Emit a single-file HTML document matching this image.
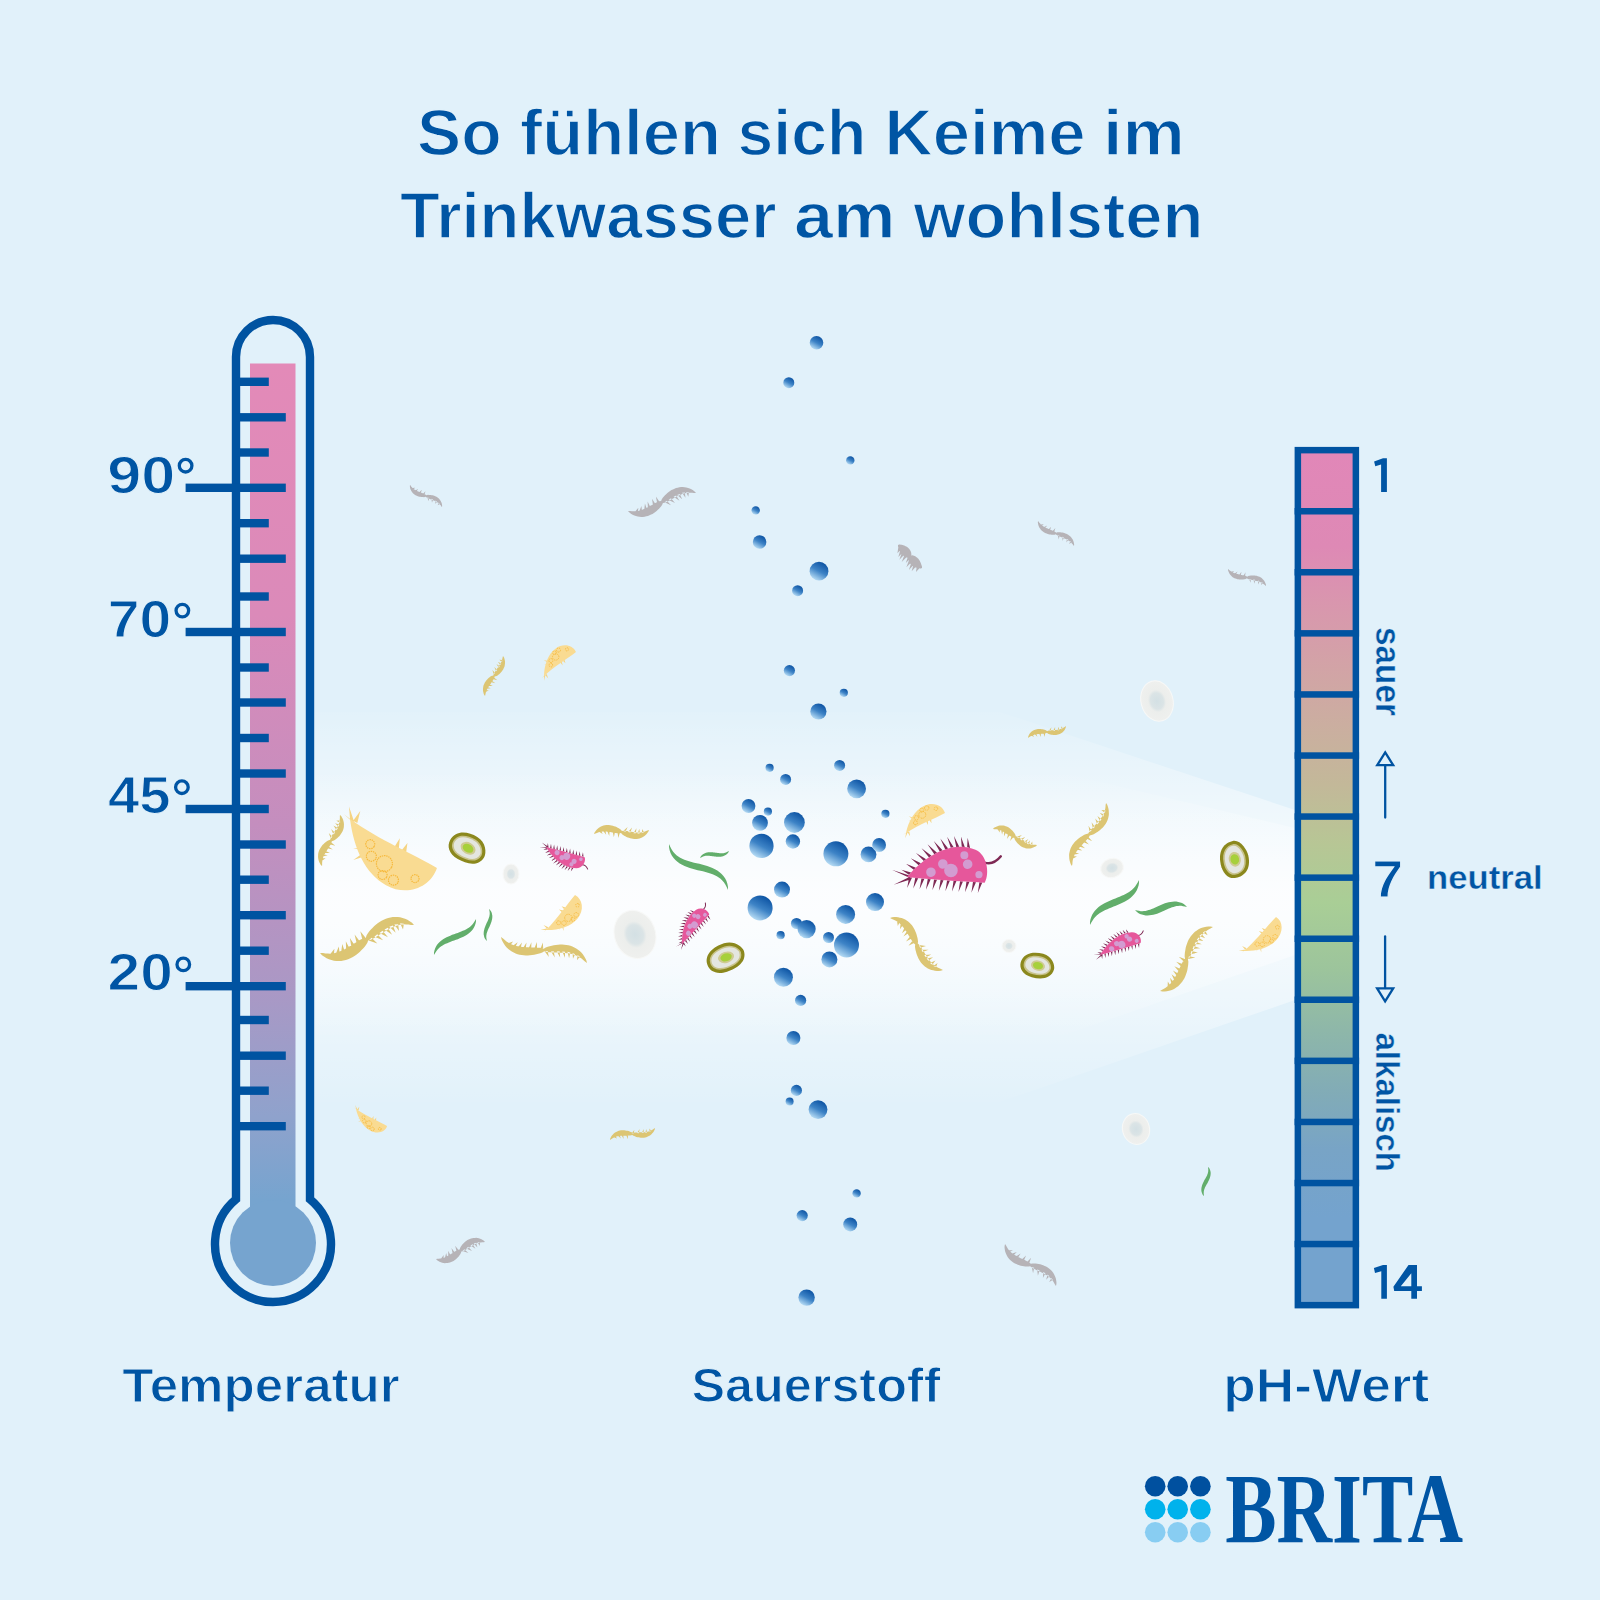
<!DOCTYPE html>
<html><head><meta charset="utf-8">
<style>
html,body{margin:0;padding:0;background:#E1F1FA;}
body{width:1600px;height:1600px;overflow:hidden;position:relative;}
svg{position:absolute;left:0;top:0;display:block;}
text{font-family:"Liberation Sans",sans-serif;fill:#0055A4;}
.thin text{stroke:#E1F1FA;stroke-width:1.4px;}
.thin2 text{stroke:#E1F1FA;stroke-width:1.1px;}
.thin3 text{stroke:#E1F1FA;stroke-width:0.4px;}
</style></head>
<body>
<svg width="1600" height="1600" viewBox="0 0 1600 1600">
<defs>
  <linearGradient id="glow" gradientUnits="userSpaceOnUse" x1="0" y1="712" x2="0" y2="1102">
    <stop offset="0" stop-color="#fff" stop-opacity="0.05"/>
    <stop offset="0.15" stop-color="#fff" stop-opacity="0.3"/>
    <stop offset="0.35" stop-color="#fff" stop-opacity="0.6"/>
    <stop offset="0.48" stop-color="#fff" stop-opacity="0.75"/>
    <stop offset="0.62" stop-color="#fff" stop-opacity="0.6"/>
    <stop offset="0.85" stop-color="#fff" stop-opacity="0.25"/>
    <stop offset="1" stop-color="#fff" stop-opacity="0.03"/>
  </linearGradient>
  <linearGradient id="therm" gradientUnits="userSpaceOnUse" x1="0" y1="364" x2="0" y2="1200">
    <stop offset="0" stop-color="#E38AB8"/>
    <stop offset="0.3" stop-color="#DB8AB9"/>
    <stop offset="0.55" stop-color="#C48EBE"/>
    <stop offset="0.75" stop-color="#AA98C5"/>
    <stop offset="0.9" stop-color="#8FA2CC"/>
    <stop offset="1" stop-color="#76A4CF"/>
  </linearGradient>
  <linearGradient id="phg" gradientUnits="userSpaceOnUse" x1="0" y1="453" x2="0" y2="1302">
    <stop offset="0" stop-color="#E187B8"/>
    <stop offset="0.11" stop-color="#DE89B5"/>
    <stop offset="0.175" stop-color="#D996AE"/>
    <stop offset="0.245" stop-color="#D3A2A7"/>
    <stop offset="0.32" stop-color="#CBAEA0"/>
    <stop offset="0.39" stop-color="#C3B899"/>
    <stop offset="0.46" stop-color="#B7C695"/>
    <stop offset="0.53" stop-color="#A9CE96"/>
    <stop offset="0.61" stop-color="#9CC49C"/>
    <stop offset="0.68" stop-color="#8EB7A9"/>
    <stop offset="0.75" stop-color="#82ACB6"/>
    <stop offset="0.82" stop-color="#78A4C6"/>
    <stop offset="0.9" stop-color="#74A3CE"/>
    <stop offset="1" stop-color="#74A3CE"/>
  </linearGradient>
  <radialGradient id="wc" cx="0.5" cy="0.5" r="0.5">
    <stop offset="0" stop-color="#D3E0E4"/>
    <stop offset="0.4" stop-color="#DBE4E6"/>
    <stop offset="0.55" stop-color="#ECEEEC"/>
    <stop offset="1" stop-color="#EFF0EE"/>
  </radialGradient>
  <linearGradient id="glow2" gradientUnits="userSpaceOnUse" x1="0" y1="770" x2="0" y2="1040">
    <stop offset="0" stop-color="#fff" stop-opacity="0"/>
    <stop offset="0.45" stop-color="#fff" stop-opacity="0.6"/>
    <stop offset="0.55" stop-color="#fff" stop-opacity="0.6"/>
    <stop offset="1" stop-color="#fff" stop-opacity="0"/>
  </linearGradient>
  <linearGradient id="bub" x1="0.75" y1="0.05" x2="0.25" y2="0.95">
    <stop offset="0" stop-color="#0B52A2"/>
    <stop offset="0.5" stop-color="#3D83C6"/>
    <stop offset="1" stop-color="#B8DDF5"/>
  </linearGradient>
</defs>

<!-- glow band -->
<path d="M314,712 L1000,712 L1295,810 L1295,1000 L1000,1102 L314,1102 Z" fill="url(#glow)"/>
<path d="M316,770 L1050,770 L1295,828 L1295,955 L1050,1040 L316,1040 Z" fill="url(#glow2)"/>

<!-- thermometer -->
<g id="thermo">
  <rect x="250" y="363.5" width="45.5" height="860" fill="url(#therm)"/>
  <circle cx="273" cy="1243" r="43" fill="#76A4CF"/>
  <path d="M236,1199.3 L236,357 A37,37 0 0 1 310,357 L310,1199.3 A58,58 0 1 1 236,1199.3 Z" fill="none" stroke="#0053A1" stroke-width="8.4"/>
  <g fill="#0053A1">
<rect x="236" y="377.6" width="32.8" height="8.4"/>
<rect x="236" y="413.1" width="49.8" height="8.4"/>
<rect x="236" y="448.3" width="32.8" height="8.4"/>
<rect x="185.6" y="483.6" width="100.2" height="8.4"/>
<rect x="236" y="519" width="32.8" height="8.4"/>
<rect x="236" y="554.5" width="49.8" height="8.4"/>
<rect x="236" y="592.3" width="32.8" height="8.4"/>
<rect x="185.6" y="627.8" width="100.2" height="8.4"/>
<rect x="236" y="663.3" width="32.8" height="8.4"/>
<rect x="236" y="698.3" width="49.8" height="8.4"/>
<rect x="236" y="733.8" width="32.8" height="8.4"/>
<rect x="236" y="769.3" width="49.8" height="8.4"/>
<rect x="185.6" y="804.8" width="83.2" height="8.4"/>
<rect x="236" y="840.3" width="49.8" height="8.4"/>
<rect x="236" y="875.5" width="32.8" height="8.4"/>
<rect x="236" y="911" width="49.8" height="8.4"/>
<rect x="236" y="946.5" width="32.8" height="8.4"/>
<rect x="185.6" y="982" width="100.2" height="8.4"/>
<rect x="236" y="1015.8" width="32.8" height="8.4"/>
<rect x="236" y="1051.5" width="49.8" height="8.4"/>
<rect x="236" y="1086.5" width="32.8" height="8.4"/>
<rect x="236" y="1122" width="49.8" height="8.4"/>
  </g>
</g>

<!-- pH bar -->
<g id="ph">
<rect x="1294.6" y="446.9" width="64.5" height="861.5" fill="#0053A1"/>
<rect x="1301.1" y="453.4" width="51.5" height="848.5" fill="url(#phg)"/>
<rect x="1294.6" y="508" width="64.5" height="6.5" fill="#0053A1"/>
<rect x="1294.6" y="569" width="64.5" height="6.5" fill="#0053A1"/>
<rect x="1294.6" y="630.1" width="64.5" height="6.5" fill="#0053A1"/>
<rect x="1294.6" y="691.2" width="64.5" height="6.5" fill="#0053A1"/>
<rect x="1294.6" y="752.3" width="64.5" height="6.5" fill="#0053A1"/>
<rect x="1294.6" y="813.3" width="64.5" height="6.5" fill="#0053A1"/>
<rect x="1294.6" y="874.4" width="64.5" height="6.5" fill="#0053A1"/>
<rect x="1294.6" y="935.5" width="64.5" height="6.5" fill="#0053A1"/>
<rect x="1294.6" y="996.5" width="64.5" height="6.5" fill="#0053A1"/>
<rect x="1294.6" y="1057.6" width="64.5" height="6.5" fill="#0053A1"/>
<rect x="1294.6" y="1118.7" width="64.5" height="6.5" fill="#0053A1"/>
<rect x="1294.6" y="1179.8" width="64.5" height="6.5" fill="#0053A1"/>
<rect x="1294.6" y="1240.8" width="64.5" height="6.5" fill="#0053A1"/>
</g>

<!-- microbes -->
<g id="microbes">
<path transform="translate(426,496) rotate(34.5) scale(1,-1)" d="M-19.4,0 L-18.3,-0.2 L-17.4,-0.6 L-16.5,-0.8 L-15.7,-1 L-14.9,-1.1 L-14.1,-1.2 L-13.4,-1.2 L-12.7,-1.2 L-12,-1.1 L-11.3,-1.1 L-10.6,-1 L-9.9,-0.9 L-9.2,-0.7 L-8.5,-0.6 L-7.8,-0.4 L-7.1,-0.3 L-6.3,-0.1 L-5.5,0.1 L-4.7,0.3 L-3.9,0.4 L-3.1,0.6 L-2.2,0.7 L-1.3,0.8 L-0.3,0.7 L0.3,1.5 L1,2.1 L1.8,2.6 L2.6,3.1 L3.4,3.5 L4.2,3.9 L5,4.3 L5.9,4.6 L6.7,4.8 L7.6,5 L8.6,5.2 L9.5,5.3 L10.4,5.3 L11.3,5.2 L12.3,5.1 L13.2,4.9 L14.1,4.5 L15,4.2 L15.8,3.7 L16.7,3.2 L17.5,2.5 L18.2,1.8 L18.9,1 L19.4,0 L19.4,-0 L18.3,0.2 L17.4,0.6 L16.5,0.8 L15.7,1 L14.9,1.1 L14.1,1.2 L13.4,1.2 L12.7,1.2 L12,1.1 L11.3,1.1 L10.6,1 L9.9,0.9 L9.2,0.7 L8.5,0.6 L7.8,0.4 L7.1,0.3 L6.3,0.1 L5.5,-0.1 L4.7,-0.3 L3.9,-0.4 L3.1,-0.6 L2.2,-0.7 L1.3,-0.8 L0.3,-0.7 L-0.3,-1.5 L-1,-2.1 L-1.8,-2.6 L-2.6,-3.1 L-3.4,-3.5 L-4.2,-3.9 L-5,-4.3 L-5.9,-4.6 L-6.7,-4.8 L-7.6,-5 L-8.6,-5.2 L-9.5,-5.3 L-10.4,-5.3 L-11.3,-5.2 L-12.3,-5.1 L-13.2,-4.9 L-14.1,-4.5 L-15,-4.2 L-15.8,-3.7 L-16.7,-3.2 L-17.5,-2.5 L-18.2,-1.8 L-18.9,-1 L-19.4,0 Z M-15.9,-1.2 L-13.5,0.6 L-14.2,-1.8 Z M-12.2,-1.7 L-10.4,1.4 L-10.4,-1.7 Z M-7.8,-1.1 L-6.9,2.7 L-6,-0.7 Z M-3.7,-0.2 L-3.2,3.7 L-2,0.4 Z M2,-0.4 L5.1,-3 L3.7,0.2 Z M6,0.7 L8.8,-2.2 L7.8,1.1 Z M10.4,1.7 L12.2,-1.4 L12.2,1.7 Z M14.2,1.8 L14.9,-1.1 L15.9,1.2 Z" fill="#B6B3B7"/>
<path transform="translate(662,502) rotate(-14.8) scale(1,-1)" d="M-35.2,0 L-33.2,-0.5 L-31.5,-1.2 L-29.9,-1.7 L-28.4,-2.1 L-26.9,-2.4 L-25.6,-2.5 L-24.2,-2.6 L-23,-2.6 L-21.7,-2.5 L-20.5,-2.4 L-19.3,-2.2 L-18,-2 L-16.8,-1.7 L-15.5,-1.5 L-14.2,-1.2 L-12.9,-0.8 L-11.5,-0.5 L-10.1,-0.1 L-8.6,0.2 L-7.2,0.6 L-5.6,0.9 L-4,1.2 L-2.4,1.4 L-0.6,1.2 L0.5,2.7 L1.8,3.8 L3.2,4.8 L4.6,5.7 L6,6.5 L7.5,7.3 L9,8 L10.6,8.6 L12.2,9.1 L13.8,9.4 L15.5,9.7 L17.1,9.9 L18.8,9.9 L20.6,9.8 L22.3,9.6 L23.9,9.2 L25.6,8.6 L27.2,7.9 L28.8,7 L30.2,6 L31.7,4.8 L33,3.4 L34.2,1.9 L35.2,0 L35.2,-0 L33.2,0.5 L31.5,1.2 L29.9,1.7 L28.4,2.1 L26.9,2.4 L25.6,2.5 L24.2,2.6 L23,2.6 L21.7,2.5 L20.5,2.4 L19.3,2.2 L18,2 L16.8,1.7 L15.5,1.5 L14.2,1.2 L12.9,0.8 L11.5,0.5 L10.1,0.1 L8.6,-0.2 L7.2,-0.6 L5.6,-0.9 L4,-1.2 L2.4,-1.4 L0.6,-1.2 L-0.5,-2.7 L-1.8,-3.8 L-3.2,-4.8 L-4.6,-5.7 L-6,-6.5 L-7.5,-7.3 L-9,-8 L-10.6,-8.6 L-12.2,-9.1 L-13.8,-9.4 L-15.5,-9.7 L-17.1,-9.9 L-18.8,-9.9 L-20.6,-9.8 L-22.3,-9.6 L-23.9,-9.2 L-25.6,-8.6 L-27.2,-7.9 L-28.8,-7 L-30.2,-6 L-31.7,-4.8 L-33,-3.4 L-34.2,-1.9 L-35.2,0 Z M-28.5,-2.5 L-24.3,0.6 L-25.9,-3.6 Z M-24.5,-3.3 L-20.9,1.4 L-21.7,-3.8 Z M-19.3,-3.3 L-16.9,2.8 L-16.5,-3 Z M-15.3,-2.7 L-13.8,4.1 L-12.5,-2 Z M-9.6,-1.3 L-8.8,5.8 L-6.9,-0.3 Z M-5,-0.1 L-4.5,6.9 L-2.4,1 Z M2.4,-1 L7.9,-5.4 L5,0.1 Z M6.9,0.3 L12.3,-4.4 L9.6,1.3 Z M12.5,2 L17.2,-3.3 L15.3,2.7 Z M16.5,3 L20.2,-2.5 L19.3,3.3 Z M21.7,3.8 L23.8,-1.8 L24.5,3.3 Z M25.9,3.6 L26.8,-1.6 L28.5,2.5 Z" fill="#B6B3B7"/>
<path transform="translate(910,556.5) rotate(43.8) scale(1,1)" d="M-16.6,0 L-15.8,0.9 L-15.1,1.3 L-14.4,1.7 L-13.7,2 L-13,2.4 L-12.3,2.7 L-11.6,3 L-11,3.2 L-10.3,3.5 L-9.7,3.7 L-9,3.8 L-8.4,4 L-7.7,4.1 L-7.1,4.1 L-6.4,4.1 L-5.8,4.1 L-5.1,4 L-4.4,3.9 L-3.7,3.8 L-3,3.6 L-2.3,3.3 L-1.6,2.9 L-0.9,2.5 L-0.1,1.5 L0.5,2.6 L1.2,3.1 L1.8,3.6 L2.5,4 L3.2,4.3 L3.9,4.5 L4.6,4.7 L5.3,4.8 L6,4.9 L6.8,5 L7.5,5 L8.2,4.9 L9,4.8 L9.7,4.6 L10.4,4.4 L11.2,4.2 L11.9,3.9 L12.6,3.5 L13.3,3.1 L14,2.7 L14.7,2.2 L15.4,1.7 L16.1,1.1 L16.6,0 L16.6,-0 L15.8,-0.9 L15.1,-1.3 L14.4,-1.7 L13.7,-2 L13,-2.4 L12.3,-2.7 L11.6,-3 L11,-3.2 L10.3,-3.5 L9.7,-3.7 L9,-3.8 L8.4,-4 L7.7,-4.1 L7.1,-4.1 L6.4,-4.1 L5.8,-4.1 L5.1,-4 L4.4,-3.9 L3.7,-3.8 L3,-3.6 L2.3,-3.3 L1.6,-2.9 L0.9,-2.5 L0.1,-1.5 L-0.5,-2.6 L-1.2,-3.1 L-1.8,-3.6 L-2.5,-4 L-3.2,-4.3 L-3.9,-4.5 L-4.6,-4.7 L-5.3,-4.8 L-6,-4.9 L-6.8,-5 L-7.5,-5 L-8.2,-4.9 L-9,-4.8 L-9.7,-4.6 L-10.4,-4.4 L-11.2,-4.2 L-11.9,-3.9 L-12.6,-3.5 L-13.3,-3.1 L-14,-2.7 L-14.7,-2.2 L-15.4,-1.7 L-16.1,-1.1 L-16.6,0 Z M-14.6,1.7 L-11.3,6.4 L-11.4,1.5 Z M-11.3,2.4 L-8,8.5 L-8.1,2.4 Z M-8.6,2.7 L-5.4,9.7 L-5.4,2.8 Z M-5.2,2.5 L-2.1,9.8 L-2,2.7 Z M-1.7,0.9 L1.5,7.6 L1.5,1.2 Z M1.7,3 L4.9,10.3 L4.9,3.2 Z M5.2,3.6 L8.5,10.5 L8.4,3.7 Z M8.1,3.4 L11.4,9.5 L11.3,3.4 Z M11.7,2.4 L15.1,7.1 L14.9,2.2 Z" fill="#B6B3B7"/>
<path transform="translate(1056,533.5) rotate(34.8) scale(1,-1)" d="M-21.9,0 L-20.7,-0.3 L-19.6,-0.7 L-18.7,-0.9 L-17.7,-1.2 L-16.8,-1.3 L-16,-1.4 L-15.1,-1.4 L-14.3,-1.4 L-13.5,-1.3 L-12.8,-1.3 L-12,-1.2 L-11.2,-1 L-10.4,-0.9 L-9.6,-0.7 L-8.8,-0.5 L-8,-0.4 L-7.1,-0.2 L-6.2,0 L-5.3,0.2 L-4.4,0.4 L-3.4,0.6 L-2.5,0.8 L-1.4,0.9 L-0.3,0.8 L0.4,1.7 L1.2,2.3 L2,2.9 L2.9,3.4 L3.8,3.9 L4.7,4.4 L5.7,4.8 L6.6,5.1 L7.6,5.4 L8.6,5.6 L9.7,5.8 L10.7,5.9 L11.8,5.9 L12.8,5.8 L13.9,5.7 L14.9,5.4 L15.9,5.1 L16.9,4.7 L17.9,4.1 L18.8,3.5 L19.7,2.8 L20.5,2 L21.3,1.2 L21.9,0 L21.9,-0 L20.7,0.3 L19.6,0.7 L18.7,0.9 L17.7,1.2 L16.8,1.3 L16,1.4 L15.1,1.4 L14.3,1.4 L13.5,1.3 L12.8,1.3 L12,1.2 L11.2,1 L10.4,0.9 L9.6,0.7 L8.8,0.5 L8,0.4 L7.1,0.2 L6.2,-0 L5.3,-0.2 L4.4,-0.4 L3.4,-0.6 L2.5,-0.8 L1.4,-0.9 L0.3,-0.8 L-0.4,-1.7 L-1.2,-2.3 L-2,-2.9 L-2.9,-3.4 L-3.8,-3.9 L-4.7,-4.4 L-5.7,-4.8 L-6.6,-5.1 L-7.6,-5.4 L-8.6,-5.6 L-9.7,-5.8 L-10.7,-5.9 L-11.8,-5.9 L-12.8,-5.8 L-13.9,-5.7 L-14.9,-5.4 L-15.9,-5.1 L-16.9,-4.7 L-17.9,-4.1 L-18.8,-3.5 L-19.7,-2.8 L-20.5,-2 L-21.3,-1.2 L-21.9,0 Z M-17.8,-1.4 L-15.3,0.6 L-16.1,-2 Z M-13.7,-1.9 L-11.8,1.5 L-11.9,-2 Z M-8.6,-1.3 L-7.8,2.9 L-6.9,-0.8 Z M-4.1,-0.2 L-3.6,4.1 L-2.4,0.4 Z M2.4,-0.4 L5.7,-3.2 L4.1,0.2 Z M6.9,0.8 L9.8,-2.3 L8.6,1.3 Z M11.9,2 L13.7,-1.5 L13.7,1.9 Z M16.1,2 L16.8,-1.1 L17.8,1.4 Z" fill="#B6B3B7"/>
<path transform="translate(1247,577.5) rotate(24.1) scale(1,-1)" d="M-20.8,0 L-19.6,-0.3 L-18.6,-0.6 L-17.7,-0.8 L-16.8,-1 L-16,-1.2 L-15.1,-1.2 L-14.4,-1.2 L-13.6,-1.2 L-12.9,-1.2 L-12.1,-1.1 L-11.4,-1 L-10.7,-0.9 L-9.9,-0.7 L-9.2,-0.6 L-8.4,-0.4 L-7.6,-0.2 L-6.8,-0 L-6,0.1 L-5.1,0.3 L-4.2,0.5 L-3.3,0.7 L-2.4,0.8 L-1.4,0.9 L-0.3,0.8 L0.3,1.6 L1.1,2.3 L1.9,2.8 L2.7,3.3 L3.6,3.8 L4.5,4.2 L5.4,4.6 L6.3,5 L7.2,5.2 L8.2,5.5 L9.2,5.6 L10.2,5.7 L11.2,5.7 L12.2,5.6 L13.2,5.5 L14.2,5.3 L15.1,4.9 L16.1,4.5 L17,4 L17.9,3.4 L18.7,2.7 L19.5,2 L20.3,1.1 L20.8,0 L20.8,-0 L19.6,0.3 L18.6,0.6 L17.7,0.8 L16.8,1 L16,1.2 L15.1,1.2 L14.4,1.2 L13.6,1.2 L12.9,1.2 L12.1,1.1 L11.4,1 L10.7,0.9 L9.9,0.7 L9.2,0.6 L8.4,0.4 L7.6,0.2 L6.8,0 L6,-0.1 L5.1,-0.3 L4.2,-0.5 L3.3,-0.7 L2.4,-0.8 L1.4,-0.9 L0.3,-0.8 L-0.3,-1.6 L-1.1,-2.3 L-1.9,-2.8 L-2.7,-3.3 L-3.6,-3.8 L-4.5,-4.2 L-5.4,-4.6 L-6.3,-5 L-7.2,-5.2 L-8.2,-5.5 L-9.2,-5.6 L-10.2,-5.7 L-11.2,-5.7 L-12.2,-5.6 L-13.2,-5.5 L-14.2,-5.3 L-15.1,-4.9 L-16.1,-4.5 L-17,-4 L-17.9,-3.4 L-18.7,-2.7 L-19.5,-2 L-20.3,-1.1 L-20.8,0 Z M-17,-1.3 L-14.4,0.7 L-15.3,-1.9 Z M-13,-1.8 L-11.1,1.6 L-11.2,-1.8 Z M-8.3,-1.2 L-7.4,3 L-6.5,-0.7 Z M-3.9,-0.2 L-3.5,4.2 L-2.3,0.5 Z M2.3,-0.5 L5.6,-3.3 L3.9,0.2 Z M6.5,0.7 L9.5,-2.5 L8.3,1.2 Z M11.2,1.8 L13.1,-1.7 L13,1.8 Z M15.3,1.9 L15.9,-1.2 L17,1.3 Z" fill="#B6B3B7"/>
<path transform="translate(460.5,1250.5) rotate(-19.1) scale(1,-1)" d="M-25.9,0 L-24.4,-0.3 L-23.1,-0.7 L-21.9,-1 L-20.8,-1.3 L-19.7,-1.4 L-18.7,-1.5 L-17.8,-1.5 L-16.8,-1.4 L-16,-1.3 L-15.1,-1.2 L-14.2,-1 L-13.4,-0.9 L-12.5,-0.7 L-11.6,-0.5 L-10.6,-0.2 L-9.7,-0 L-8.7,0.2 L-7.6,0.4 L-6.6,0.7 L-5.5,0.9 L-4.3,1.1 L-3.1,1.3 L-1.9,1.4 L-0.5,1.1 L0.3,2.3 L1.2,3.2 L2.2,4 L3.2,4.7 L4.2,5.3 L5.3,5.9 L6.5,6.4 L7.6,6.9 L8.8,7.3 L10,7.6 L11.3,7.8 L12.6,7.9 L13.9,7.9 L15.2,7.8 L16.5,7.6 L17.7,7.2 L19,6.8 L20.2,6.2 L21.3,5.5 L22.4,4.7 L23.5,3.7 L24.4,2.7 L25.3,1.5 L25.9,0 L25.9,-0 L24.4,0.3 L23.1,0.7 L21.9,1 L20.8,1.3 L19.7,1.4 L18.7,1.5 L17.8,1.5 L16.8,1.4 L16,1.3 L15.1,1.2 L14.2,1 L13.4,0.9 L12.5,0.7 L11.6,0.5 L10.6,0.2 L9.7,0 L8.7,-0.2 L7.6,-0.4 L6.6,-0.7 L5.5,-0.9 L4.3,-1.1 L3.1,-1.3 L1.9,-1.4 L0.5,-1.1 L-0.3,-2.3 L-1.2,-3.2 L-2.2,-4 L-3.2,-4.7 L-4.2,-5.3 L-5.3,-5.9 L-6.5,-6.4 L-7.6,-6.9 L-8.8,-7.3 L-10,-7.6 L-11.3,-7.8 L-12.6,-7.9 L-13.9,-7.9 L-15.2,-7.8 L-16.5,-7.6 L-17.7,-7.2 L-19,-6.8 L-20.2,-6.2 L-21.3,-5.5 L-22.4,-4.7 L-23.5,-3.7 L-24.4,-2.7 L-25.3,-1.5 L-25.9,0 Z M-21.2,-1.5 L-17.4,1.2 L-18.8,-2.5 Z M-17.3,-2.1 L-14.3,2.4 L-14.8,-2.3 Z M-13.6,-1.9 L-11.7,3.8 L-11,-1.5 Z M-8.5,-1 L-7.7,5.3 L-6.1,-0.1 Z M-4,0.1 L-3.5,6.3 L-1.7,1.1 Z M1.7,-1.1 L6.6,-5 L4,-0.1 Z M6.1,0.1 L10.7,-4.2 L8.5,1 Z M11,1.5 L14.7,-3.3 L13.6,1.9 Z M14.8,2.3 L17,-2.6 L17.3,2.1 Z M18.8,2.5 L19.6,-2.1 L21.2,1.5 Z" fill="#B6B3B7"/>
<path transform="translate(1030.5,1265) rotate(39.5) scale(1,-1)" d="M-33,0 L-31.2,-0.6 L-29.6,-1.2 L-28.1,-1.7 L-26.7,-2.1 L-25.3,-2.3 L-24,-2.5 L-22.8,-2.6 L-21.6,-2.6 L-20.4,-2.5 L-19.2,-2.4 L-18.1,-2.2 L-16.9,-2.1 L-15.7,-1.8 L-14.5,-1.6 L-13.3,-1.3 L-12,-1 L-10.7,-0.6 L-9.4,-0.3 L-8.1,0 L-6.7,0.4 L-5.2,0.7 L-3.7,1 L-2.2,1.2 L-0.5,1.1 L0.5,2.5 L1.8,3.5 L3,4.4 L4.4,5.2 L5.7,6 L7.1,6.7 L8.5,7.3 L10,7.8 L11.5,8.3 L13,8.7 L14.5,8.9 L16.1,9.1 L17.7,9.1 L19.3,9 L20.9,8.8 L22.5,8.4 L24,7.9 L25.5,7.2 L27,6.4 L28.4,5.5 L29.7,4.4 L31,3.2 L32.1,1.8 L33,0 L33,-0 L31.2,0.6 L29.6,1.2 L28.1,1.7 L26.7,2.1 L25.3,2.3 L24,2.5 L22.8,2.6 L21.6,2.6 L20.4,2.5 L19.2,2.4 L18.1,2.2 L16.9,2.1 L15.7,1.8 L14.5,1.6 L13.3,1.3 L12,1 L10.7,0.6 L9.4,0.3 L8.1,-0 L6.7,-0.4 L5.2,-0.7 L3.7,-1 L2.2,-1.2 L0.5,-1.1 L-0.5,-2.5 L-1.8,-3.5 L-3,-4.4 L-4.4,-5.2 L-5.7,-6 L-7.1,-6.7 L-8.5,-7.3 L-10,-7.8 L-11.5,-8.3 L-13,-8.7 L-14.5,-8.9 L-16.1,-9.1 L-17.7,-9.1 L-19.3,-9 L-20.9,-8.8 L-22.5,-8.4 L-24,-7.9 L-25.5,-7.2 L-27,-6.4 L-28.4,-5.5 L-29.7,-4.4 L-31,-3.2 L-32.1,-1.8 L-33,0 Z M-26.8,-2.5 L-23,0.3 L-24.4,-3.4 Z M-21.8,-3.4 L-18.8,1.2 L-19.2,-3.6 Z M-16.8,-3.1 L-15,2.7 L-14.3,-2.7 Z M-10.3,-1.7 L-9.5,4.6 L-7.9,-0.8 Z M-4.6,-0.2 L-4.1,6 L-2.3,0.8 Z M2.3,-0.8 L7.2,-4.7 L4.6,0.2 Z M7.9,0.8 L12.5,-3.5 L10.3,1.7 Z M14.3,2.7 L17.9,-2.2 L16.8,3.1 Z M19.2,3.6 L21.4,-1.4 L21.8,3.4 Z M24.4,3.4 L25.2,-1.2 L26.8,2.5 Z" fill="#B6B3B7"/>
<path transform="translate(494,676) rotate(-65.8) scale(1,1)" d="M-21.9,0 L-20.7,-0.2 L-19.7,-0.4 L-18.7,-0.6 L-17.7,-0.8 L-16.8,-0.9 L-16,-0.9 L-15.2,-0.9 L-14.3,-0.8 L-13.6,-0.8 L-12.8,-0.7 L-12,-0.6 L-11.2,-0.4 L-10.4,-0.3 L-9.6,-0.1 L-8.8,0 L-8,0.2 L-7.1,0.3 L-6.2,0.5 L-5.3,0.7 L-4.4,0.8 L-3.4,0.9 L-2.5,1 L-1.4,1.1 L-0.3,0.8 L0.4,1.8 L1.2,2.4 L2,3 L2.9,3.5 L3.8,3.9 L4.7,4.4 L5.7,4.7 L6.7,5 L7.6,5.3 L8.7,5.5 L9.7,5.7 L10.7,5.7 L11.8,5.7 L12.8,5.7 L13.9,5.5 L14.9,5.2 L15.9,4.9 L16.9,4.5 L17.9,4 L18.8,3.4 L19.7,2.7 L20.5,2 L21.3,1.1 L21.9,0 L21.9,-0 L20.7,0.2 L19.7,0.4 L18.7,0.6 L17.7,0.8 L16.8,0.9 L16,0.9 L15.2,0.9 L14.3,0.8 L13.6,0.8 L12.8,0.7 L12,0.6 L11.2,0.4 L10.4,0.3 L9.6,0.1 L8.8,-0 L8,-0.2 L7.1,-0.3 L6.2,-0.5 L5.3,-0.7 L4.4,-0.8 L3.4,-0.9 L2.5,-1 L1.4,-1.1 L0.3,-0.8 L-0.4,-1.8 L-1.2,-2.4 L-2,-3 L-2.9,-3.5 L-3.8,-3.9 L-4.7,-4.4 L-5.7,-4.7 L-6.7,-5 L-7.6,-5.3 L-8.7,-5.5 L-9.7,-5.7 L-10.7,-5.7 L-11.8,-5.7 L-12.8,-5.7 L-13.9,-5.5 L-14.9,-5.2 L-15.9,-4.9 L-16.9,-4.5 L-17.9,-4 L-18.8,-3.4 L-19.7,-2.7 L-20.5,-2 L-21.3,-1.1 L-21.9,0 Z M-17.9,-1 L-15.2,1.2 L-16.1,-1.6 Z M-14.6,-1.4 L-12.4,2 L-12.6,-1.5 Z M-11.3,-1.2 L-9.7,3 L-9.4,-1 Z M-6.9,-0.5 L-6.1,4.2 L-5.1,0 Z M-3.2,0.2 L-2.5,4.8 L-1.4,0.9 Z M1.4,-0.9 L4.9,-4 L3.2,-0.2 Z M5.1,-0 L8.4,-3.5 L6.9,0.5 Z M9.4,1 L12,-2.7 L11.3,1.2 Z M12.6,1.5 L14.4,-2.2 L14.6,1.4 Z M16.1,1.6 L16.9,-1.8 L17.9,1 Z" fill="#DCC573"/>
<path transform="translate(331,840.5) rotate(-70.6) scale(1,1)" d="M-27,0 L-25.5,-0.4 L-24.2,-0.9 L-22.9,-1.2 L-21.8,-1.5 L-20.6,-1.7 L-19.6,-1.8 L-18.6,-1.8 L-17.6,-1.8 L-16.7,-1.7 L-15.7,-1.6 L-14.8,-1.4 L-13.9,-1.3 L-12.9,-1.1 L-12,-0.9 L-11,-0.6 L-10,-0.4 L-8.9,-0.1 L-7.8,0.1 L-6.7,0.4 L-5.6,0.6 L-4.4,0.9 L-3.2,1.1 L-1.9,1.2 L-0.5,1 L0.4,2.2 L1.3,3.1 L2.4,3.9 L3.4,4.6 L4.5,5.2 L5.7,5.8 L6.8,6.4 L8,6.8 L9.3,7.2 L10.5,7.5 L11.8,7.7 L13.1,7.9 L14.5,7.9 L15.8,7.8 L17.1,7.6 L18.4,7.2 L19.7,6.8 L21,6.2 L22.2,5.5 L23.3,4.7 L24.4,3.8 L25.4,2.7 L26.4,1.5 L27,0 L27,-0 L25.5,0.4 L24.2,0.9 L22.9,1.2 L21.8,1.5 L20.6,1.7 L19.6,1.8 L18.6,1.8 L17.6,1.8 L16.7,1.7 L15.7,1.6 L14.8,1.4 L13.9,1.3 L12.9,1.1 L12,0.9 L11,0.6 L10,0.4 L8.9,0.1 L7.8,-0.1 L6.7,-0.4 L5.6,-0.6 L4.4,-0.9 L3.2,-1.1 L1.9,-1.2 L0.5,-1 L-0.4,-2.2 L-1.3,-3.1 L-2.4,-3.9 L-3.4,-4.6 L-4.5,-5.2 L-5.7,-5.8 L-6.8,-6.4 L-8,-6.8 L-9.3,-7.2 L-10.5,-7.5 L-11.8,-7.7 L-13.1,-7.9 L-14.5,-7.9 L-15.8,-7.8 L-17.1,-7.6 L-18.4,-7.2 L-19.7,-6.8 L-21,-6.2 L-22.2,-5.5 L-23.3,-4.7 L-24.4,-3.8 L-25.4,-2.7 L-26.4,-1.5 L-27,0 Z M-22,-1.8 L-18.5,0.8 L-19.8,-2.7 Z M-17.9,-2.5 L-15.1,1.8 L-15.5,-2.7 Z M-14,-2.3 L-12.2,3.1 L-11.6,-1.9 Z M-8.6,-1.2 L-7.9,4.7 L-6.4,-0.4 Z M-4,-0 L-3.5,5.8 L-1.8,0.9 Z M1.8,-0.9 L6.4,-4.6 L4,0 Z M6.4,0.4 L10.8,-3.7 L8.6,1.2 Z M11.6,1.9 L15,-2.7 L14,2.3 Z M15.5,2.7 L17.7,-2 L17.9,2.5 Z M19.8,2.7 L20.5,-1.6 L22,1.8 Z" fill="#DCC573"/>
<path transform="translate(367,939) rotate(-16.6) scale(1,-1)" d="M-49,0 L-46.2,-0.9 L-43.9,-2 L-41.7,-2.8 L-39.6,-3.5 L-37.5,-3.9 L-35.6,-4.2 L-33.8,-4.3 L-32,-4.3 L-30.3,-4.3 L-28.6,-4.1 L-26.9,-3.9 L-25.2,-3.6 L-23.4,-3.2 L-21.7,-2.8 L-19.8,-2.3 L-18,-1.9 L-16.1,-1.3 L-14.1,-0.8 L-12.1,-0.2 L-10,0.3 L-7.8,0.9 L-5.6,1.4 L-3.4,1.8 L-0.8,1.6 L0.7,3.7 L2.5,5.3 L4.4,6.7 L6.4,7.9 L8.4,9.1 L10.4,10.2 L12.5,11.2 L14.7,12.1 L16.9,12.8 L19.2,13.4 L21.5,13.8 L23.9,14.1 L26.3,14.2 L28.7,14 L31,13.7 L33.4,13.1 L35.7,12.3 L37.9,11.3 L40.1,10 L42.2,8.5 L44.2,6.8 L46,4.9 L47.8,2.7 L49,0 L49,-0 L46.2,0.9 L43.9,2 L41.7,2.8 L39.6,3.5 L37.5,3.9 L35.6,4.2 L33.8,4.3 L32,4.3 L30.3,4.3 L28.6,4.1 L26.9,3.9 L25.2,3.6 L23.4,3.2 L21.7,2.8 L19.8,2.3 L18,1.9 L16.1,1.3 L14.1,0.8 L12.1,0.2 L10,-0.3 L7.8,-0.9 L5.6,-1.4 L3.4,-1.8 L0.8,-1.6 L-0.7,-3.7 L-2.5,-5.3 L-4.4,-6.7 L-6.4,-7.9 L-8.4,-9.1 L-10.4,-10.2 L-12.5,-11.2 L-14.7,-12.1 L-16.9,-12.8 L-19.2,-13.4 L-21.5,-13.8 L-23.9,-14.1 L-26.3,-14.2 L-28.7,-14 L-31,-13.7 L-33.4,-13.1 L-35.7,-12.3 L-37.9,-11.3 L-40.1,-10 L-42.2,-8.5 L-44.2,-6.8 L-46,-4.9 L-47.8,-2.7 L-49,0 Z M-39.7,-4.1 L-34,-0 L-36.2,-5.6 Z M-34.1,-5.3 L-29.2,0.8 L-30.3,-6 Z M-28.7,-5.5 L-25.1,2.3 L-24.9,-5.3 Z M-23.2,-4.8 L-20.9,4 L-19.4,-4 Z M-17.3,-3.5 L-16.1,5.9 L-13.7,-2.2 Z M-11.2,-1.7 L-10.6,7.8 L-7.7,-0.1 Z M-4.7,0.1 L-4.2,9.3 L-1.2,1.8 Z M1.2,-1.8 L8.7,-7.2 L4.7,-0.1 Z M7.7,0.1 L15.1,-5.8 L11.2,1.7 Z M13.7,2.2 L20.6,-4.3 L17.3,3.5 Z M19.4,4 L25.3,-3 L23.2,4.8 Z M24.9,5.3 L29.3,-2.1 L28.7,5.5 Z M30.3,6 L33,-1.4 L34.1,5.3 Z M36.2,5.6 L37.2,-1.3 L39.7,4.1 Z" fill="#DCC573"/>
<path transform="translate(621.5,832) rotate(-4.2) scale(1,1)" d="M-27.6,0 L-26,-0.4 L-24.6,-0.9 L-23.4,-1.3 L-22.2,-1.6 L-21.1,-1.7 L-20,-1.8 L-19,-1.9 L-18,-1.9 L-17,-1.8 L-16.1,-1.7 L-15.1,-1.5 L-14.2,-1.4 L-13.2,-1.2 L-12.2,-0.9 L-11.2,-0.7 L-10.2,-0.5 L-9.1,-0.2 L-8,0.1 L-6.8,0.3 L-5.7,0.6 L-4.5,0.8 L-3.2,1.1 L-1.9,1.2 L-0.5,1 L0.4,2.2 L1.4,3.1 L2.4,3.9 L3.5,4.6 L4.6,5.3 L5.8,5.9 L7,6.4 L8.2,6.9 L9.5,7.3 L10.8,7.6 L12.1,7.8 L13.4,8 L14.8,8 L16.1,7.9 L17.5,7.7 L18.8,7.3 L20.1,6.9 L21.4,6.3 L22.6,5.6 L23.8,4.8 L24.9,3.8 L25.9,2.7 L26.9,1.5 L27.6,0 L27.6,-0 L26,0.4 L24.6,0.9 L23.4,1.3 L22.2,1.6 L21.1,1.7 L20,1.8 L19,1.9 L18,1.9 L17,1.8 L16.1,1.7 L15.1,1.5 L14.2,1.4 L13.2,1.2 L12.2,0.9 L11.2,0.7 L10.2,0.5 L9.1,0.2 L8,-0.1 L6.8,-0.3 L5.7,-0.6 L4.5,-0.8 L3.2,-1.1 L1.9,-1.2 L0.5,-1 L-0.4,-2.2 L-1.4,-3.1 L-2.4,-3.9 L-3.5,-4.6 L-4.6,-5.3 L-5.8,-5.9 L-7,-6.4 L-8.2,-6.9 L-9.5,-7.3 L-10.8,-7.6 L-12.1,-7.8 L-13.4,-8 L-14.8,-8 L-16.1,-7.9 L-17.5,-7.7 L-18.8,-7.3 L-20.1,-6.9 L-21.4,-6.3 L-22.6,-5.6 L-23.8,-4.8 L-24.9,-3.8 L-25.9,-2.7 L-26.9,-1.5 L-27.6,0 Z M-22.4,-1.9 L-18.9,0.7 L-20.2,-2.8 Z M-18.3,-2.6 L-15.5,1.7 L-15.9,-2.8 Z M-14.2,-2.4 L-12.5,3 L-11.8,-2 Z M-8.8,-1.2 L-8,4.6 L-6.5,-0.4 Z M-4,-0 L-3.6,5.8 L-1.8,0.9 Z M1.8,-0.9 L6.5,-4.5 L4,0 Z M6.5,0.4 L10.9,-3.6 L8.8,1.2 Z M11.8,2 L15.2,-2.6 L14.2,2.4 Z M15.9,2.8 L18,-1.9 L18.3,2.6 Z M20.2,2.8 L20.9,-1.5 L22.4,1.9 Z" fill="#DCC573"/>
<path transform="translate(544,950) rotate(16.8) scale(1,-1)" d="M-44.9,0 L-42.5,-0.9 L-40.4,-1.8 L-38.4,-2.6 L-36.5,-3.2 L-34.7,-3.7 L-32.9,-4 L-31.1,-4.1 L-29.5,-4.2 L-27.8,-4.2 L-26.2,-4.1 L-24.5,-3.9 L-22.9,-3.6 L-21.3,-3.3 L-19.6,-3 L-17.9,-2.6 L-16.1,-2.1 L-14.4,-1.7 L-12.5,-1.2 L-10.7,-0.7 L-8.8,-0.1 L-6.8,0.4 L-4.8,0.8 L-2.8,1.2 L-0.6,1.2 L0.9,2.9 L2.6,4.2 L4.4,5.3 L6.2,6.4 L8,7.4 L9.9,8.3 L11.9,9.1 L13.8,9.9 L15.8,10.5 L17.9,11 L19.9,11.3 L22,11.5 L24.1,11.6 L26.2,11.5 L28.3,11.2 L30.4,10.8 L32.5,10.1 L34.5,9.3 L36.5,8.3 L38.4,7.1 L40.2,5.7 L41.9,4.1 L43.6,2.3 L44.9,0 L44.9,-0 L42.5,0.9 L40.4,1.8 L38.4,2.6 L36.5,3.2 L34.7,3.7 L32.9,4 L31.1,4.1 L29.5,4.2 L27.8,4.2 L26.2,4.1 L24.5,3.9 L22.9,3.6 L21.3,3.3 L19.6,3 L17.9,2.6 L16.1,2.1 L14.4,1.7 L12.5,1.2 L10.7,0.7 L8.8,0.1 L6.8,-0.4 L4.8,-0.8 L2.8,-1.2 L0.6,-1.2 L-0.9,-2.9 L-2.6,-4.2 L-4.4,-5.3 L-6.2,-6.4 L-8,-7.4 L-9.9,-8.3 L-11.9,-9.1 L-13.8,-9.9 L-15.8,-10.5 L-17.9,-11 L-19.9,-11.3 L-22,-11.5 L-24.1,-11.6 L-26.2,-11.5 L-28.3,-11.2 L-30.4,-10.8 L-32.5,-10.1 L-34.5,-9.3 L-36.5,-8.3 L-38.4,-7.1 L-40.2,-5.7 L-41.9,-4.1 L-43.6,-2.3 L-44.9,0 Z M-36.3,-3.8 L-32.1,-0.7 L-33.6,-4.9 Z M-31,-5 L-27.4,-0.3 L-28.2,-5.4 Z M-25.9,-5.1 L-23.2,0.7 L-23,-5 Z M-20.7,-4.5 L-18.9,2.2 L-17.9,-3.9 Z M-15.3,-3.2 L-14.3,3.8 L-12.6,-2.3 Z M-9.7,-1.6 L-9.1,5.5 L-7.1,-0.5 Z M-3.8,0 L-3.3,6.9 L-1.2,1.2 Z M1.2,-1.2 L6.7,-5.4 L3.8,-0 Z M7.1,0.5 L12.5,-4 L9.7,1.6 Z M12.6,2.3 L17.7,-2.6 L15.3,3.2 Z M17.9,3.9 L22.3,-1.4 L20.7,4.5 Z M23,5 L26.4,-0.6 L25.9,5.1 Z M28.2,5.4 L30.3,-0.1 L31,5 Z M33.6,4.9 L34.5,-0.3 L36.3,3.8 Z" fill="#DCC573"/>
<path transform="translate(1015,837) rotate(20) scale(1,1)" d="M-23.4,0 L-22,-0.3 L-20.9,-0.7 L-19.8,-1 L-18.8,-1.2 L-17.8,-1.3 L-16.9,-1.4 L-16.1,-1.4 L-15.2,-1.3 L-14.4,-1.3 L-13.6,-1.2 L-12.8,-1 L-12.1,-0.9 L-11.2,-0.7 L-10.4,-0.5 L-9.6,-0.3 L-8.7,-0.1 L-7.8,0.1 L-6.9,0.3 L-5.9,0.5 L-4.9,0.7 L-3.9,0.9 L-2.8,1.1 L-1.7,1.2 L-0.4,1 L0.3,2.1 L1.1,2.8 L2,3.5 L2.9,4.1 L3.9,4.7 L4.8,5.2 L5.9,5.7 L6.9,6.1 L8,6.5 L9.1,6.7 L10.2,6.9 L11.4,7 L12.5,7 L13.7,7 L14.8,6.8 L16,6.5 L17.1,6.1 L18.2,5.5 L19.2,4.9 L20.2,4.2 L21.2,3.3 L22.1,2.4 L22.9,1.4 L23.4,0 L23.4,-0 L22,0.3 L20.9,0.7 L19.8,1 L18.8,1.2 L17.8,1.3 L16.9,1.4 L16.1,1.4 L15.2,1.3 L14.4,1.3 L13.6,1.2 L12.8,1 L12.1,0.9 L11.2,0.7 L10.4,0.5 L9.6,0.3 L8.7,0.1 L7.8,-0.1 L6.9,-0.3 L5.9,-0.5 L4.9,-0.7 L3.9,-0.9 L2.8,-1.1 L1.7,-1.2 L0.4,-1 L-0.3,-2.1 L-1.1,-2.8 L-2,-3.5 L-2.9,-4.1 L-3.9,-4.7 L-4.8,-5.2 L-5.9,-5.7 L-6.9,-6.1 L-8,-6.5 L-9.1,-6.7 L-10.2,-6.9 L-11.4,-7 L-12.5,-7 L-13.7,-7 L-14.8,-6.8 L-16,-6.5 L-17.1,-6.1 L-18.2,-5.5 L-19.2,-4.9 L-20.2,-4.2 L-21.2,-3.3 L-22.1,-2.4 L-22.9,-1.4 L-23.4,0 Z M-19.1,-1.4 L-15.8,1 L-17,-2.3 Z M-15.6,-2 L-13,2 L-13.4,-2.2 Z M-12.2,-1.8 L-10.6,3.2 L-10,-1.5 Z M-7.6,-0.9 L-6.9,4.6 L-5.5,-0.1 Z M-3.6,0 L-3.2,5.5 L-1.5,0.9 Z M1.5,-0.9 L5.8,-4.3 L3.6,-0 Z M5.5,0.1 L9.6,-3.6 L7.6,0.9 Z M10,1.5 L13.2,-2.8 L12.2,1.8 Z M13.4,2.2 L15.3,-2.2 L15.6,2 Z M17,2.3 L17.7,-1.7 L19.1,1.4 Z" fill="#DCC573"/>
<path transform="translate(916.5,944) rotate(44.5) scale(1,1)" d="M-37.1,0 L-35,-0.6 L-33.3,-1.3 L-31.6,-1.9 L-30,-2.3 L-28.5,-2.6 L-27,-2.8 L-25.6,-2.9 L-24.3,-2.9 L-22.9,-2.8 L-21.6,-2.7 L-20.3,-2.5 L-19,-2.3 L-17.7,-2 L-16.3,-1.8 L-14.9,-1.4 L-13.5,-1.1 L-12.1,-0.7 L-10.6,-0.3 L-9.1,0 L-7.5,0.4 L-5.9,0.8 L-4.2,1.1 L-2.5,1.4 L-0.6,1.2 L0.6,2.8 L2,3.9 L3.4,4.9 L4.9,5.8 L6.4,6.7 L8,7.5 L9.6,8.2 L11.2,8.8 L12.9,9.3 L14.6,9.8 L16.3,10.1 L18.1,10.2 L19.9,10.3 L21.7,10.2 L23.5,9.9 L25.2,9.5 L27,8.9 L28.7,8.1 L30.3,7.2 L31.9,6.2 L33.4,4.9 L34.8,3.6 L36.1,2 L37.1,0 L37.1,-0 L35,0.6 L33.3,1.3 L31.6,1.9 L30,2.3 L28.5,2.6 L27,2.8 L25.6,2.9 L24.3,2.9 L22.9,2.8 L21.6,2.7 L20.3,2.5 L19,2.3 L17.7,2 L16.3,1.8 L14.9,1.4 L13.5,1.1 L12.1,0.7 L10.6,0.3 L9.1,-0 L7.5,-0.4 L5.9,-0.8 L4.2,-1.1 L2.5,-1.4 L0.6,-1.2 L-0.6,-2.8 L-2,-3.9 L-3.4,-4.9 L-4.9,-5.8 L-6.4,-6.7 L-8,-7.5 L-9.6,-8.2 L-11.2,-8.8 L-12.9,-9.3 L-14.6,-9.8 L-16.3,-10.1 L-18.1,-10.2 L-19.9,-10.3 L-21.7,-10.2 L-23.5,-9.9 L-25.2,-9.5 L-27,-8.9 L-28.7,-8.1 L-30.3,-7.2 L-31.9,-6.2 L-33.4,-4.9 L-34.8,-3.6 L-36.1,-2 L-37.1,0 Z M-30.1,-2.8 L-25.9,0.3 L-27.4,-3.9 Z M-25.8,-3.7 L-22.2,1.1 L-23,-4.1 Z M-20.3,-3.7 L-17.9,2.5 L-17.4,-3.3 Z M-16,-3 L-14.5,3.9 L-13.2,-2.3 Z M-10,-1.5 L-9.3,5.6 L-7.3,-0.4 Z M-5.2,-0.2 L-4.6,6.8 L-2.5,1 Z M2.5,-1 L8.1,-5.3 L5.2,0.2 Z M7.3,0.4 L12.7,-4.3 L10,1.5 Z M13.2,2.3 L17.9,-3 L16,3 Z M17.4,3.3 L21.2,-2.1 L20.3,3.7 Z M23,4.1 L25.1,-1.5 L25.8,3.7 Z M27.4,3.9 L28.3,-1.3 L30.1,2.8 Z" fill="#DCC573"/>
<path transform="translate(1089,834.5) rotate(-61.6) scale(1,1)" d="M-35.8,0 L-33.8,-0.6 L-32.1,-1.4 L-30.5,-2 L-29,-2.4 L-27.5,-2.7 L-26.1,-2.9 L-24.7,-3 L-23.4,-3 L-22.1,-3 L-20.8,-2.9 L-19.6,-2.7 L-18.3,-2.5 L-17,-2.3 L-15.7,-2 L-14.3,-1.7 L-13,-1.3 L-11.6,-1 L-10.1,-0.6 L-8.6,-0.2 L-7.1,0.2 L-5.6,0.5 L-4,0.9 L-2.3,1.2 L-0.5,1.1 L0.7,2.5 L2,3.6 L3.4,4.5 L4.8,5.4 L6.3,6.2 L7.8,6.9 L9.3,7.6 L10.9,8.2 L12.5,8.7 L14.1,9.1 L15.8,9.4 L17.5,9.6 L19.2,9.6 L20.9,9.5 L22.6,9.3 L24.3,8.9 L26,8.4 L27.6,7.7 L29.1,6.8 L30.7,5.8 L32.1,4.7 L33.5,3.3 L34.8,1.9 L35.8,0 L35.8,-0 L33.8,0.6 L32.1,1.4 L30.5,2 L29,2.4 L27.5,2.7 L26.1,2.9 L24.7,3 L23.4,3 L22.1,3 L20.8,2.9 L19.6,2.7 L18.3,2.5 L17,2.3 L15.7,2 L14.3,1.7 L13,1.3 L11.6,1 L10.1,0.6 L8.6,0.2 L7.1,-0.2 L5.6,-0.5 L4,-0.9 L2.3,-1.2 L0.5,-1.1 L-0.7,-2.5 L-2,-3.6 L-3.4,-4.5 L-4.8,-5.4 L-6.3,-6.2 L-7.8,-6.9 L-9.3,-7.6 L-10.9,-8.2 L-12.5,-8.7 L-14.1,-9.1 L-15.8,-9.4 L-17.5,-9.6 L-19.2,-9.6 L-20.9,-9.5 L-22.6,-9.3 L-24.3,-8.9 L-26,-8.4 L-27.6,-7.7 L-29.1,-6.8 L-30.7,-5.8 L-32.1,-4.7 L-33.5,-3.3 L-34.8,-1.9 L-35.8,0 Z M-29,-2.9 L-25.2,-0.1 L-26.6,-3.8 Z M-24.8,-3.7 L-21.6,0.5 L-22.3,-4.1 Z M-19.4,-3.7 L-17.3,1.8 L-16.9,-3.4 Z M-15.3,-3.1 L-13.9,3 L-12.8,-2.4 Z M-9.5,-1.6 L-8.8,4.7 L-7.1,-0.6 Z M-4.8,-0.3 L-4.4,6 L-2.5,0.7 Z M2.5,-0.7 L7.4,-4.6 L4.8,0.3 Z M7.1,0.6 L11.9,-3.5 L9.5,1.6 Z M12.8,2.4 L17,-2.2 L15.3,3.1 Z M16.9,3.4 L20.2,-1.4 L19.4,3.7 Z M22.3,4.1 L24.2,-0.9 L24.8,3.7 Z M26.6,3.8 L27.4,-0.8 L29,2.9 Z" fill="#DCC573"/>
<path transform="translate(1186.5,959) rotate(-50.4) scale(1,-1)" d="M-41.5,0 L-39.2,-0.7 L-37.3,-1.6 L-35.4,-2.2 L-33.6,-2.7 L-31.9,-3.1 L-30.3,-3.3 L-28.7,-3.4 L-27.2,-3.5 L-25.7,-3.4 L-24.2,-3.3 L-22.7,-3.1 L-21.2,-2.8 L-19.7,-2.5 L-18.2,-2.2 L-16.7,-1.9 L-15.1,-1.5 L-13.4,-1 L-11.8,-0.6 L-10,-0.2 L-8.3,0.3 L-6.5,0.7 L-4.6,1.1 L-2.7,1.4 L-0.6,1.3 L0.7,3 L2.3,4.2 L3.9,5.3 L5.6,6.3 L7.3,7.3 L9,8.2 L10.8,8.9 L12.6,9.6 L14.5,10.2 L16.4,10.7 L18.3,11 L20.3,11.2 L22.3,11.2 L24.3,11.1 L26.3,10.9 L28.2,10.4 L30.1,9.8 L32,9 L33.9,8 L35.6,6.8 L37.3,5.4 L38.9,3.9 L40.4,2.2 L41.5,0 L41.5,-0 L39.2,0.7 L37.3,1.6 L35.4,2.2 L33.6,2.7 L31.9,3.1 L30.3,3.3 L28.7,3.4 L27.2,3.5 L25.7,3.4 L24.2,3.3 L22.7,3.1 L21.2,2.8 L19.7,2.5 L18.2,2.2 L16.7,1.9 L15.1,1.5 L13.4,1 L11.8,0.6 L10,0.2 L8.3,-0.3 L6.5,-0.7 L4.6,-1.1 L2.7,-1.4 L0.6,-1.3 L-0.7,-3 L-2.3,-4.2 L-3.9,-5.3 L-5.6,-6.3 L-7.3,-7.3 L-9,-8.2 L-10.8,-8.9 L-12.6,-9.6 L-14.5,-10.2 L-16.4,-10.7 L-18.3,-11 L-20.3,-11.2 L-22.3,-11.2 L-24.3,-11.1 L-26.3,-10.9 L-28.2,-10.4 L-30.1,-9.8 L-32,-9 L-33.9,-8 L-35.6,-6.8 L-37.3,-5.4 L-38.9,-3.9 L-40.4,-2.2 L-41.5,0 Z M-33.6,-3.3 L-29.2,0.1 L-30.8,-4.4 Z M-28.8,-4.3 L-25,0.7 L-25.8,-4.7 Z M-24.2,-4.4 L-21.3,1.8 L-21.1,-4.2 Z M-19.4,-3.8 L-17.5,3.2 L-16.5,-3.2 Z M-14.5,-2.7 L-13.4,4.7 L-11.6,-1.7 Z M-9.3,-1.3 L-8.6,6.2 L-6.5,-0.1 Z M-3.8,0.1 L-3.2,7.4 L-1,1.4 Z M1,-1.4 L6.9,-5.8 L3.8,-0.1 Z M6.5,0.1 L12.2,-4.7 L9.3,1.3 Z M11.6,1.7 L17,-3.5 L14.5,2.7 Z M16.5,3.2 L21.1,-2.4 L19.4,3.8 Z M21.1,4.2 L24.7,-1.6 L24.2,4.4 Z M25.8,4.7 L28,-1.1 L28.8,4.3 Z M30.8,4.4 L31.8,-1.1 L33.6,3.3 Z" fill="#DCC573"/>
<path transform="translate(1047,732) rotate(-17.5) scale(1,1)" d="M-19.9,0 L-18.8,-0.3 L-17.8,-0.6 L-16.9,-0.9 L-16,-1.1 L-15.2,-1.2 L-14.4,-1.3 L-13.7,-1.3 L-13,-1.3 L-12.3,-1.3 L-11.6,-1.2 L-10.9,-1.1 L-10.2,-0.9 L-9.5,-0.8 L-8.8,-0.6 L-8.1,-0.5 L-7.3,-0.3 L-6.6,-0.1 L-5.8,0.1 L-5,0.3 L-4.1,0.5 L-3.2,0.6 L-2.3,0.8 L-1.4,0.9 L-0.3,0.8 L0.3,1.6 L1,2.3 L1.7,2.8 L2.5,3.4 L3.3,3.8 L4.2,4.3 L5,4.7 L5.9,5 L6.8,5.3 L7.8,5.5 L8.7,5.7 L9.7,5.8 L10.7,5.8 L11.6,5.7 L12.6,5.6 L13.6,5.3 L14.5,5 L15.4,4.6 L16.3,4.1 L17.2,3.5 L18,2.8 L18.7,2 L19.4,1.1 L19.9,0 L19.9,-0 L18.8,0.3 L17.8,0.6 L16.9,0.9 L16,1.1 L15.2,1.2 L14.4,1.3 L13.7,1.3 L13,1.3 L12.3,1.3 L11.6,1.2 L10.9,1.1 L10.2,0.9 L9.5,0.8 L8.8,0.6 L8.1,0.5 L7.3,0.3 L6.6,0.1 L5.8,-0.1 L5,-0.3 L4.1,-0.5 L3.2,-0.6 L2.3,-0.8 L1.4,-0.9 L0.3,-0.8 L-0.3,-1.6 L-1,-2.3 L-1.7,-2.8 L-2.5,-3.4 L-3.3,-3.8 L-4.2,-4.3 L-5,-4.7 L-5.9,-5 L-6.8,-5.3 L-7.8,-5.5 L-8.7,-5.7 L-9.7,-5.8 L-10.7,-5.8 L-11.6,-5.7 L-12.6,-5.6 L-13.6,-5.3 L-14.5,-5 L-15.4,-4.6 L-16.3,-4.1 L-17.2,-3.5 L-18,-2.8 L-18.7,-2 L-19.4,-1.1 L-19.9,0 Z M-16.2,-1.3 L-13.6,0.6 L-14.5,-2 Z M-12.5,-1.8 L-10.6,1.6 L-10.7,-1.9 Z M-8,-1.3 L-7.2,3 L-6.3,-0.7 Z M-3.8,-0.2 L-3.5,4.1 L-2.2,0.5 Z M2.2,-0.5 L5.6,-3.2 L3.8,0.2 Z M6.3,0.7 L9.3,-2.4 L8,1.3 Z M10.7,1.9 L12.5,-1.6 L12.5,1.8 Z M14.5,2 L15.1,-1.2 L16.2,1.3 Z" fill="#DCC573"/>
<path transform="translate(632.5,1134) rotate(-14.9) scale(1,1)" d="M-23.3,0 L-22,-0.4 L-20.8,-0.8 L-19.8,-1.1 L-18.8,-1.4 L-17.8,-1.6 L-16.9,-1.7 L-16,-1.7 L-15.2,-1.7 L-14.4,-1.6 L-13.6,-1.5 L-12.8,-1.4 L-11.9,-1.3 L-11.1,-1.1 L-10.3,-0.9 L-9.4,-0.7 L-8.5,-0.5 L-7.6,-0.3 L-6.7,-0.1 L-5.7,0.2 L-4.7,0.4 L-3.7,0.6 L-2.7,0.8 L-1.6,0.9 L-0.4,0.8 L0.4,1.8 L1.2,2.5 L2.1,3.2 L3,3.8 L4,4.3 L5,4.8 L6,5.3 L7,5.7 L8,6 L9.1,6.3 L10.2,6.5 L11.3,6.6 L12.5,6.6 L13.6,6.5 L14.7,6.3 L15.9,6.1 L16.9,5.7 L18,5.2 L19,4.6 L20,3.9 L21,3.2 L21.9,2.3 L22.7,1.3 L23.3,0 L23.3,-0 L22,0.4 L20.8,0.8 L19.8,1.1 L18.8,1.4 L17.8,1.6 L16.9,1.7 L16,1.7 L15.2,1.7 L14.4,1.6 L13.6,1.5 L12.8,1.4 L11.9,1.3 L11.1,1.1 L10.3,0.9 L9.4,0.7 L8.5,0.5 L7.6,0.3 L6.7,0.1 L5.7,-0.2 L4.7,-0.4 L3.7,-0.6 L2.7,-0.8 L1.6,-0.9 L0.4,-0.8 L-0.4,-1.8 L-1.2,-2.5 L-2.1,-3.2 L-3,-3.8 L-4,-4.3 L-5,-4.8 L-6,-5.3 L-7,-5.7 L-8,-6 L-9.1,-6.3 L-10.2,-6.5 L-11.3,-6.6 L-12.5,-6.6 L-13.6,-6.5 L-14.7,-6.3 L-15.9,-6.1 L-16.9,-5.7 L-18,-5.2 L-19,-4.6 L-20,-3.9 L-21,-3.2 L-21.9,-2.3 L-22.7,-1.3 L-23.3,0 Z M-18.9,-1.7 L-16.1,0.4 L-17.1,-2.4 Z M-14.5,-2.3 L-12.5,1.4 L-12.6,-2.3 Z M-11,-1.9 L-9.8,2.5 L-9.2,-1.5 Z M-6.4,-0.9 L-5.9,3.9 L-4.6,-0.2 Z M-0.6,-1 L3,-3.6 L1.1,-0.2 Z M4.6,0.2 L8.2,-3 L6.4,0.9 Z M9.2,1.5 L12.1,-2 L11,1.9 Z M12.6,2.3 L14.6,-1.4 L14.5,2.3 Z M17.1,2.4 L17.7,-1.1 L18.9,1.7 Z" fill="#DCC573"/>
<g transform="translate(350,819) rotate(29.4) scale(1,1)"><path d="M0.6,0.8 L-7,-10.4 L5.4,0.8 Z M1.6,0.8 L-8,-1.2 L6.4,0.8 Z M3.6,0 L5,-12 L8.4,0 Z M52.5,2.4 L52.9,-7.6 L57.3,2.4 Z M60.5,1.6 L61.9,-7.2 L65.3,1.6 Z M23.6,20 L17,24 L28.4,20 Z M27.6,24 L23,34 L32.4,24 Z " fill="#F5D483"/><path d="M0,0 C34.9,4 74.9,-0.8 99.8,0 C103.8,20 87.9,40 63.9,40 C39.9,40 18,24 0,0 Z" fill="#F9DB92"/><circle cx="30" cy="12" r="4.5" fill="none" stroke="#F6B93C" stroke-width="1.2" stroke-dasharray="1.4 0.8"/><circle cx="36.9" cy="22" r="5" fill="none" stroke="#F6B93C" stroke-width="1.2" stroke-dasharray="1.4 0.8"/><circle cx="51.9" cy="22" r="8" fill="none" stroke="#F6B93C" stroke-width="1.2" stroke-dasharray="1.4 0.8"/><circle cx="55.9" cy="32.8" r="4.5" fill="none" stroke="#F6B93C" stroke-width="1.2" stroke-dasharray="1.4 0.8"/><circle cx="67.9" cy="32" r="5" fill="none" stroke="#F6B93C" stroke-width="1.2" stroke-dasharray="1.4 0.8"/><circle cx="85.9" cy="20" r="4" fill="none" stroke="#F6B93C" stroke-width="1.2" stroke-dasharray="1.4 0.8"/></g>
<g transform="translate(544,676) rotate(-36.9) scale(1,-1)"><path d="M0.3,0.3 L-2.8,-3.9 L2.1,0.3 Z M0.7,0.3 L-3.2,-0.5 L2.5,0.3 Z M1.5,0 L2,-4.5 L3.3,0 Z M21.1,0.9 L21.2,-2.9 L22.9,0.9 Z M24.3,0.6 L24.8,-2.7 L26.1,0.6 Z M9.5,7.5 L6.8,9 L11.3,7.5 Z M11.1,9 L9.2,12.8 L12.9,9 Z " fill="#F5D483"/><path d="M0,0 C14,1.5 30,-0.3 40,0 C41.6,7.5 35.2,15 25.6,15 C16,15 7.2,9 0,0 Z" fill="#F9DB92"/><circle cx="12" cy="4.5" r="1.8" fill="none" stroke="#F6B93C" stroke-width="0.8" stroke-dasharray="1.4 0.8"/><circle cx="14.8" cy="8.2" r="2" fill="none" stroke="#F6B93C" stroke-width="0.8" stroke-dasharray="1.4 0.8"/><circle cx="20.8" cy="8.2" r="3.2" fill="none" stroke="#F6B93C" stroke-width="0.8" stroke-dasharray="1.4 0.8"/><circle cx="22.4" cy="12.3" r="1.8" fill="none" stroke="#F6B93C" stroke-width="0.8" stroke-dasharray="1.4 0.8"/><circle cx="27.2" cy="12" r="2" fill="none" stroke="#F6B93C" stroke-width="0.8" stroke-dasharray="1.4 0.8"/><circle cx="34.4" cy="7.5" r="1.6" fill="none" stroke="#F6B93C" stroke-width="0.8" stroke-dasharray="1.4 0.8"/></g>
<g transform="translate(546,930) rotate(-50.4) scale(1,1)"><path d="M0.3,0.3 L-3.2,-4.4 L2.4,0.3 Z M0.8,0.3 L-3.6,-0.5 L2.8,0.3 Z M1.7,0 L2.3,-5.1 L3.7,0 Z M24,1 L24.1,-3.2 L26,1 Z M27.6,0.7 L28.2,-3.1 L29.7,0.7 Z M10.8,8.5 L7.7,10.2 L12.8,8.5 Z M12.6,10.2 L10.5,14.4 L14.7,10.2 Z " fill="#F5D483"/><path d="M0,0 C15.9,1.7 34.1,-0.3 45.5,0 C47.3,8.5 40,17 29.1,17 C18.2,17 8.2,10.2 0,0 Z" fill="#F9DB92"/><circle cx="13.6" cy="5.1" r="2" fill="none" stroke="#F6B93C" stroke-width="0.8" stroke-dasharray="1.4 0.8"/><circle cx="16.8" cy="9.4" r="2.3" fill="none" stroke="#F6B93C" stroke-width="0.8" stroke-dasharray="1.4 0.8"/><circle cx="23.6" cy="9.4" r="3.6" fill="none" stroke="#F6B93C" stroke-width="0.8" stroke-dasharray="1.4 0.8"/><circle cx="25.5" cy="13.9" r="2" fill="none" stroke="#F6B93C" stroke-width="0.8" stroke-dasharray="1.4 0.8"/><circle cx="30.9" cy="13.6" r="2.3" fill="none" stroke="#F6B93C" stroke-width="0.8" stroke-dasharray="1.4 0.8"/><circle cx="39.1" cy="8.5" r="1.8" fill="none" stroke="#F6B93C" stroke-width="0.8" stroke-dasharray="1.4 0.8"/></g>
<g transform="translate(906,833) rotate(-27.1) scale(1,-1)"><path d="M0.4,0.3 L-3.1,-4.2 L2.3,0.3 Z M0.8,0.3 L-3.5,-0.5 L2.7,0.3 Z M1.7,0 L2.2,-4.8 L3.6,0 Z M23.1,1 L23.2,-3 L25.1,1 Z M26.7,0.6 L27.2,-2.9 L28.6,0.6 Z M10.4,8 L7.5,9.6 L12.4,8 Z M12.2,9.6 L10.1,13.6 L14.1,9.6 Z " fill="#F5D483"/><path d="M0,0 C15.3,1.6 32.9,-0.3 43.8,0 C45.6,8 38.6,16 28.1,16 C17.5,16 7.9,9.6 0,0 Z" fill="#F9DB92"/><circle cx="13.1" cy="4.8" r="2" fill="none" stroke="#F6B93C" stroke-width="0.8" stroke-dasharray="1.4 0.8"/><circle cx="16.2" cy="8.8" r="2.2" fill="none" stroke="#F6B93C" stroke-width="0.8" stroke-dasharray="1.4 0.8"/><circle cx="22.8" cy="8.8" r="3.5" fill="none" stroke="#F6B93C" stroke-width="0.8" stroke-dasharray="1.4 0.8"/><circle cx="24.5" cy="13.1" r="2" fill="none" stroke="#F6B93C" stroke-width="0.8" stroke-dasharray="1.4 0.8"/><circle cx="29.8" cy="12.8" r="2.2" fill="none" stroke="#F6B93C" stroke-width="0.8" stroke-dasharray="1.4 0.8"/><circle cx="37.7" cy="8" r="1.8" fill="none" stroke="#F6B93C" stroke-width="0.8" stroke-dasharray="1.4 0.8"/></g>
<g transform="translate(1244,951) rotate(-46.7) scale(1,1)"><path d="M0.4,0.3 L-3.3,-4.2 L2.4,0.3 Z M0.9,0.3 L-3.7,-0.5 L2.8,0.3 Z M1.8,0 L2.3,-4.8 L3.8,0 Z M24.7,1 L24.7,-3 L26.6,1 Z M28.5,0.6 L28.9,-2.9 L30.4,0.6 Z M11.2,8 L7.9,9.6 L13.1,8 Z M13,9.6 L10.7,13.6 L15,9.6 Z " fill="#F5D483"/><path d="M0,0 C16.3,1.6 35,-0.3 46.7,0 C48.6,8 41.1,16 29.9,16 C18.7,16 8.4,9.6 0,0 Z" fill="#F9DB92"/><circle cx="14" cy="4.8" r="2.1" fill="none" stroke="#F6B93C" stroke-width="0.8" stroke-dasharray="1.4 0.8"/><circle cx="17.3" cy="8.8" r="2.3" fill="none" stroke="#F6B93C" stroke-width="0.8" stroke-dasharray="1.4 0.8"/><circle cx="24.3" cy="8.8" r="3.7" fill="none" stroke="#F6B93C" stroke-width="0.8" stroke-dasharray="1.4 0.8"/><circle cx="26.1" cy="13.1" r="2.1" fill="none" stroke="#F6B93C" stroke-width="0.8" stroke-dasharray="1.4 0.8"/><circle cx="31.7" cy="12.8" r="2.3" fill="none" stroke="#F6B93C" stroke-width="0.8" stroke-dasharray="1.4 0.8"/><circle cx="40.2" cy="8" r="1.9" fill="none" stroke="#F6B93C" stroke-width="0.8" stroke-dasharray="1.4 0.8"/></g>
<g transform="translate(356,1109) rotate(28.7) scale(1,1)"><path d="M0.3,0.2 L-2.5,-3.1 L1.9,0.2 Z M0.6,0.2 L-2.8,-0.4 L2.2,0.2 Z M1.3,0 L1.8,-3.6 L2.9,0 Z M18.6,0.7 L18.7,-2.3 L20.2,0.7 Z M21.5,0.5 L21.9,-2.2 L23.1,0.5 Z M8.4,6 L6,7.2 L10,6 Z M9.8,7.2 L8.1,10.2 L11.4,7.2 Z " fill="#F5D483"/><path d="M0,0 C12.4,1.2 26.5,-0.2 35.4,0 C36.8,6 31.1,12 22.6,12 C14.1,12 6.4,7.2 0,0 Z" fill="#F9DB92"/><circle cx="10.6" cy="3.6" r="1.6" fill="none" stroke="#F6B93C" stroke-width="0.8" stroke-dasharray="1.4 0.8"/><circle cx="13.1" cy="6.6" r="1.8" fill="none" stroke="#F6B93C" stroke-width="0.8" stroke-dasharray="1.4 0.8"/><circle cx="18.4" cy="6.6" r="2.8" fill="none" stroke="#F6B93C" stroke-width="0.8" stroke-dasharray="1.4 0.8"/><circle cx="19.8" cy="9.8" r="1.6" fill="none" stroke="#F6B93C" stroke-width="0.8" stroke-dasharray="1.4 0.8"/><circle cx="24" cy="9.6" r="1.8" fill="none" stroke="#F6B93C" stroke-width="0.8" stroke-dasharray="1.4 0.8"/><circle cx="30.4" cy="6" r="1.4" fill="none" stroke="#F6B93C" stroke-width="0.8" stroke-dasharray="1.4 0.8"/></g>
<g transform="translate(467.5,848) rotate(30)"><path d="M-19,1.5 C-19,-10.1 -7.6,-14.5 2.9,-14.5 C13.3,-14.5 19,-5.1 19,-0.7 C19,10.9 7.6,14.5 -2.9,14.5 C-13.3,14.5 -19,8.7 -19,1.5 Z" fill="#8B881D"/><path d="M-15.8,1.1 C-15.8,-7.9 -6.3,-11.3 2.4,-11.3 C11.1,-11.3 15.8,-4 15.8,-0.6 C15.8,8.5 6.3,11.3 -2.4,11.3 C-11.1,11.3 -15.8,6.8 -15.8,1.1 Z" fill="#C8C38B"/><path d="M-14.2,1 C-14.2,-6.8 -5.7,-9.7 2.1,-9.7 C9.9,-9.7 14.2,-3.4 14.2,-0.5 C14.2,7.3 5.7,9.7 -2.1,9.7 C-9.9,9.7 -14.2,5.8 -14.2,1 Z" fill="#E4E6E0"/><ellipse cx="0.6" rx="8" ry="5.8" fill="#CFCB92"/><ellipse cx="0.6" rx="5.7" ry="4.1" fill="#A7D03B"/></g>
<g transform="translate(725.5,957.5) rotate(-18)"><path d="M-19.5,1.4 C-19.5,-9.8 -7.8,-14 2.9,-14 C13.6,-14 19.5,-4.9 19.5,-0.7 C19.5,10.5 7.8,14 -2.9,14 C-13.6,14 -19.5,8.4 -19.5,1.4 Z" fill="#8B881D"/><path d="M-16.3,1.1 C-16.3,-7.6 -6.5,-10.8 2.4,-10.8 C11.4,-10.8 16.3,-3.8 16.3,-0.5 C16.3,8.1 6.5,10.8 -2.4,10.8 C-11.4,10.8 -16.3,6.5 -16.3,1.1 Z" fill="#C8C38B"/><path d="M-14.7,0.9 C-14.7,-6.4 -5.9,-9.2 2.2,-9.2 C10.3,-9.2 14.7,-3.2 14.7,-0.5 C14.7,6.9 5.9,9.2 -2.2,9.2 C-10.3,9.2 -14.7,5.5 -14.7,0.9 Z" fill="#E4E6E0"/><ellipse cx="0.6" rx="8.2" ry="5.6" fill="#CFCB92"/><ellipse cx="0.6" rx="5.8" ry="3.9" fill="#A7D03B"/></g>
<g transform="translate(1037.5,965.5) rotate(15)"><path d="M-17,1.3 C-17,-9 -6.8,-12.8 2.5,-12.8 C11.9,-12.8 17,-4.5 17,-0.6 C17,9.6 6.8,12.8 -2.5,12.8 C-11.9,12.8 -17,7.7 -17,1.3 Z" fill="#8B881D"/><path d="M-13.8,1 C-13.8,-6.7 -5.5,-9.6 2.1,-9.6 C9.7,-9.6 13.8,-3.4 13.8,-0.5 C13.8,7.2 5.5,9.6 -2.1,9.6 C-9.7,9.6 -13.8,5.8 -13.8,1 Z" fill="#C8C38B"/><path d="M-12.2,0.8 C-12.2,-5.6 -4.9,-8 1.8,-8 C8.5,-8 12.2,-2.8 12.2,-0.4 C12.2,6 4.9,8 -1.8,8 C-8.5,8 -12.2,4.8 -12.2,0.8 Z" fill="#E4E6E0"/><ellipse cx="0.5" rx="7.1" ry="5.1" fill="#CFCB92"/><ellipse cx="0.5" rx="5.1" ry="3.6" fill="#A7D03B"/></g>
<g transform="translate(1234.4,859.4) rotate(-12)"><path d="M-14.4,1.8 C-14.4,-12.9 -5.8,-18.4 2.2,-18.4 C10.1,-18.4 14.4,-6.4 14.4,-0.9 C14.4,13.8 5.8,18.4 -2.2,18.4 C-10.1,18.4 -14.4,11 -14.4,1.8 Z" fill="#8B881D"/><path d="M-11.2,1.5 C-11.2,-10.6 -4.5,-15.2 1.7,-15.2 C7.8,-15.2 11.2,-5.3 11.2,-0.8 C11.2,11.4 4.5,15.2 -1.7,15.2 C-7.8,15.2 -11.2,9.1 -11.2,1.5 Z" fill="#C8C38B"/><path d="M-9.6,1.4 C-9.6,-9.5 -3.8,-13.6 1.4,-13.6 C6.7,-13.6 9.6,-4.8 9.6,-0.7 C9.6,10.2 3.8,13.6 -1.4,13.6 C-6.7,13.6 -9.6,8.2 -9.6,1.4 Z" fill="#E4E6E0"/><ellipse cx="0.4" rx="6" ry="7.4" fill="#CFCB92"/><ellipse cx="0.4" rx="4.3" ry="5.2" fill="#A7D03B"/></g>
<g transform="translate(511,874) rotate(0)"><ellipse rx="8" ry="10" fill="url(#wc)" stroke="#F7F8F7" stroke-width="1"/></g>
<g transform="translate(635,934.5) rotate(-20)"><ellipse rx="20.5" ry="24.5" fill="url(#wc)" stroke="#F7F8F7" stroke-width="1"/></g>
<g transform="translate(1009,946) rotate(0)"><ellipse rx="7" ry="6.5" fill="url(#wc)" stroke="#F7F8F7" stroke-width="1"/></g>
<g transform="translate(1112,868) rotate(-15)"><ellipse rx="11.5" ry="9.5" fill="url(#wc)" stroke="#F7F8F7" stroke-width="1"/></g>
<g transform="translate(1157,701) rotate(-15)"><ellipse rx="16" ry="20.5" fill="url(#wc)" stroke="#F7F8F7" stroke-width="1"/></g>
<g transform="translate(1136,1129) rotate(-15)"><ellipse rx="13.5" ry="15.5" fill="url(#wc)" stroke="#F7F8F7" stroke-width="1"/></g>
<path transform="translate(698.5,867) rotate(37.9) scale(1,-1)" d="M-37.4,0 L-34.5,-1.5 L-31.9,-2.7 L-29.4,-3.5 L-27,-4 L-24.6,-4.3 L-22.4,-4.2 L-20.1,-4 L-17.9,-3.5 L-15.6,-2.9 L-13.3,-2.2 L-11,-1.3 L-8.6,-0.3 L-6.2,0.7 L-3.8,1.8 L-1.3,3 L1.2,4.1 L3.7,5.1 L6.3,6.1 L9,7 L11.6,7.8 L14.3,8.4 L17,8.8 L19.8,8.9 L22.5,8.7 L25.2,8.2 L27.9,7.4 L30.5,6.2 L33,4.6 L35.3,2.6 L37.4,0 L37.4,-0 L34.5,1.5 L31.9,2.7 L29.4,3.5 L27,4 L24.6,4.3 L22.4,4.2 L20.1,4 L17.9,3.5 L15.6,2.9 L13.3,2.2 L11,1.3 L8.6,0.3 L6.2,-0.7 L3.8,-1.8 L1.3,-3 L-1.2,-4.1 L-3.7,-5.1 L-6.3,-6.1 L-9,-7 L-11.6,-7.8 L-14.3,-8.4 L-17,-8.8 L-19.8,-8.9 L-22.5,-8.7 L-25.2,-8.2 L-27.9,-7.4 L-30.5,-6.2 L-33,-4.6 L-35.3,-2.6 L-37.4,0 Z" fill="#62AE6B"/>
<path transform="translate(714.5,854.5) rotate(-13.6) scale(1,1)" d="M-14.9,0 L-13.7,-0.3 L-12.6,-0.6 L-11.6,-0.8 L-10.7,-0.9 L-9.8,-0.9 L-8.9,-0.8 L-8,-0.6 L-7.2,-0.4 L-6.3,-0.2 L-5.4,0.1 L-4.5,0.4 L-3.6,0.8 L-2.6,1.1 L-1.7,1.5 L-0.7,1.9 L0.3,2.2 L1.3,2.6 L2.4,2.9 L3.4,3.2 L4.5,3.4 L5.6,3.6 L6.8,3.7 L7.9,3.6 L9,3.5 L10.1,3.3 L11.2,2.9 L12.2,2.4 L13.2,1.8 L14.1,1 L14.9,0 L14.9,-0 L13.7,0.3 L12.6,0.6 L11.6,0.8 L10.7,0.9 L9.8,0.9 L8.9,0.8 L8,0.6 L7.2,0.4 L6.3,0.2 L5.4,-0.1 L4.5,-0.4 L3.6,-0.8 L2.6,-1.1 L1.7,-1.5 L0.7,-1.9 L-0.3,-2.2 L-1.3,-2.6 L-2.4,-2.9 L-3.4,-3.2 L-4.5,-3.4 L-5.6,-3.6 L-6.8,-3.7 L-7.9,-3.6 L-9,-3.5 L-10.1,-3.3 L-11.2,-2.9 L-12.2,-2.4 L-13.2,-1.8 L-14.1,-1 L-14.9,0 Z" fill="#62AE6B"/>
<path transform="translate(455,937) rotate(-40.6) scale(1,1)" d="M-27.7,0 L-25.5,-0.7 L-23.5,-1.3 L-21.7,-1.7 L-19.9,-2 L-18.2,-2 L-16.5,-1.9 L-14.9,-1.7 L-13.2,-1.4 L-11.6,-0.9 L-9.9,-0.4 L-8.2,0.1 L-6.4,0.8 L-4.7,1.4 L-2.9,2.1 L-1.1,2.8 L0.8,3.5 L2.7,4.1 L4.6,4.7 L6.6,5.3 L8.6,5.7 L10.6,6 L12.6,6.2 L14.6,6.2 L16.7,6.1 L18.7,5.7 L20.6,5.1 L22.6,4.2 L24.4,3.1 L26.1,1.8 L27.7,0 L27.7,-0 L25.5,0.7 L23.5,1.3 L21.7,1.7 L19.9,2 L18.2,2 L16.5,1.9 L14.9,1.7 L13.2,1.4 L11.6,0.9 L9.9,0.4 L8.2,-0.1 L6.4,-0.8 L4.7,-1.4 L2.9,-2.1 L1.1,-2.8 L-0.8,-3.5 L-2.7,-4.1 L-4.6,-4.7 L-6.6,-5.3 L-8.6,-5.7 L-10.6,-6 L-12.6,-6.2 L-14.6,-6.2 L-16.7,-6.1 L-18.7,-5.7 L-20.6,-5.1 L-22.6,-4.2 L-24.4,-3.1 L-26.1,-1.8 L-27.7,0 Z" fill="#62AE6B"/>
<path transform="translate(488,925) rotate(-86.4) scale(1,1)" d="M-16,0 L-14.7,-0.4 L-13.6,-0.7 L-12.5,-0.9 L-11.5,-1 L-10.5,-1 L-9.6,-0.9 L-8.6,-0.8 L-7.7,-0.6 L-6.7,-0.3 L-5.8,-0 L-4.8,0.3 L-3.8,0.7 L-2.8,1.1 L-1.8,1.5 L-0.7,1.9 L0.4,2.3 L1.5,2.6 L2.6,3 L3.7,3.3 L4.9,3.5 L6.1,3.7 L7.3,3.8 L8.5,3.8 L9.7,3.7 L10.8,3.4 L12,3.1 L13.1,2.6 L14.2,1.9 L15.2,1.1 L16,0 L16,-0 L14.7,0.4 L13.6,0.7 L12.5,0.9 L11.5,1 L10.5,1 L9.6,0.9 L8.6,0.8 L7.7,0.6 L6.7,0.3 L5.8,0 L4.8,-0.3 L3.8,-0.7 L2.8,-1.1 L1.8,-1.5 L0.7,-1.9 L-0.4,-2.3 L-1.5,-2.6 L-2.6,-3 L-3.7,-3.3 L-4.9,-3.5 L-6.1,-3.7 L-7.3,-3.8 L-8.5,-3.8 L-9.7,-3.7 L-10.8,-3.4 L-12,-3.1 L-13.1,-2.6 L-14.2,-1.9 L-15.2,-1.1 L-16,0 Z" fill="#62AE6B"/>
<path transform="translate(1114.5,902.5) rotate(-42.6) scale(1,1)" d="M-33.3,0 L-30.7,-0.9 L-28.3,-1.6 L-26.1,-2.1 L-24,-2.4 L-21.9,-2.5 L-19.9,-2.4 L-17.9,-2.1 L-15.9,-1.7 L-13.9,-1.2 L-11.9,-0.6 L-9.8,0.1 L-7.7,0.8 L-5.6,1.6 L-3.4,2.4 L-1.2,3.3 L1,4.1 L3.3,4.9 L5.6,5.6 L7.9,6.2 L10.3,6.8 L12.7,7.2 L15.2,7.4 L17.6,7.4 L20,7.2 L22.4,6.8 L24.8,6 L27.1,5 L29.3,3.7 L31.4,2.1 L33.3,0 L33.3,-0 L30.7,0.9 L28.3,1.6 L26.1,2.1 L24,2.4 L21.9,2.5 L19.9,2.4 L17.9,2.1 L15.9,1.7 L13.9,1.2 L11.9,0.6 L9.8,-0.1 L7.7,-0.8 L5.6,-1.6 L3.4,-2.4 L1.2,-3.3 L-1,-4.1 L-3.3,-4.9 L-5.6,-5.6 L-7.9,-6.2 L-10.3,-6.8 L-12.7,-7.2 L-15.2,-7.4 L-17.6,-7.4 L-20,-7.2 L-22.4,-6.8 L-24.8,-6 L-27.1,-5 L-29.3,-3.7 L-31.4,-2.1 L-33.3,0 Z" fill="#62AE6B"/>
<path transform="translate(1161,908.5) rotate(-3.3) scale(1,-1)" d="M-26,0 L-24,-0.6 L-22.1,-1.1 L-20.4,-1.5 L-18.7,-1.6 L-17.1,-1.6 L-15.6,-1.5 L-14,-1.3 L-12.5,-0.9 L-11,-0.5 L-9.4,-0 L-7.8,0.5 L-6.2,1.1 L-4.5,1.7 L-2.9,2.4 L-1.1,3 L0.6,3.7 L2.4,4.3 L4.2,4.9 L6.1,5.3 L8,5.7 L9.9,6 L11.8,6.2 L13.8,6.2 L15.7,6 L17.6,5.6 L19.5,5 L21.3,4.2 L23,3.1 L24.7,1.7 L26,0 L26,-0 L24,0.6 L22.1,1.1 L20.4,1.5 L18.7,1.6 L17.1,1.6 L15.6,1.5 L14,1.3 L12.5,0.9 L11,0.5 L9.4,0 L7.8,-0.5 L6.2,-1.1 L4.5,-1.7 L2.9,-2.4 L1.1,-3 L-0.6,-3.7 L-2.4,-4.3 L-4.2,-4.9 L-6.1,-5.3 L-8,-5.7 L-9.9,-6 L-11.8,-6.2 L-13.8,-6.2 L-15.7,-6 L-17.6,-5.6 L-19.5,-5 L-21.3,-4.2 L-23,-3.1 L-24.7,-1.7 L-26,0 Z" fill="#62AE6B"/>
<path transform="translate(1206,1181.5) rotate(-82.1) scale(1,1)" d="M-14.6,0 L-13.4,-0.3 L-12.4,-0.6 L-11.4,-0.7 L-10.5,-0.8 L-9.6,-0.8 L-8.7,-0.7 L-7.9,-0.6 L-7,-0.4 L-6.2,-0.2 L-5.3,0.1 L-4.4,0.4 L-3.5,0.8 L-2.6,1.1 L-1.7,1.5 L-0.7,1.9 L0.3,2.2 L1.3,2.6 L2.3,2.9 L3.4,3.2 L4.4,3.4 L5.5,3.5 L6.6,3.6 L7.7,3.6 L8.8,3.5 L9.9,3.3 L11,2.9 L12,2.4 L13,1.8 L13.9,1 L14.6,0 L14.6,-0 L13.4,0.3 L12.4,0.6 L11.4,0.7 L10.5,0.8 L9.6,0.8 L8.7,0.7 L7.9,0.6 L7,0.4 L6.2,0.2 L5.3,-0.1 L4.4,-0.4 L3.5,-0.8 L2.6,-1.1 L1.7,-1.5 L0.7,-1.9 L-0.3,-2.2 L-1.3,-2.6 L-2.3,-2.9 L-3.4,-3.2 L-4.4,-3.4 L-5.5,-3.5 L-6.6,-3.6 L-7.7,-3.6 L-8.8,-3.5 L-9.9,-3.3 L-11,-2.9 L-12,-2.4 L-13,-1.8 L-13.9,-1 L-14.6,0 Z" fill="#62AE6B"/>
<g transform="translate(546,847) rotate(18.4) scale(1,-1)"><path d=" M0.9,-0.8 L-1.6,-3.3 L2.2,-1.8 Z M3.4,-2.8 L0.8,-5.7 L4.7,-3.7 Z M6,-4.6 L3.4,-7.9 L7.3,-5.5 Z M8.7,-6.2 L6.1,-9.9 L10.1,-7 Z M11.4,-7.7 L9,-11.7 L12.8,-8.4 Z M14.1,-9 L12,-13.3 L15.6,-9.6 Z M17,-10 L15.1,-14.5 L18.5,-10.5 Z M19.8,-10.8 L18.3,-15.4 L21.3,-11.2 Z M22.6,-11.4 L21.6,-15.9 L24.2,-11.6 Z M25.5,-11.8 L24.9,-16.1 L27.1,-11.8 Z M28.3,-11.8 L28.1,-15.9 L29.9,-11.7 Z M31.1,-11.6 L31.3,-15.4 L32.6,-11.3 Z M1.1,0.1 L0.5,4.4 L2.7,0.2 Z M4.2,0.4 L3.7,4.7 L5.8,0.5 Z M7.4,0.6 L6.9,4.9 L9,0.8 Z M10.6,0.9 L10.1,5.2 L12.2,1 Z M13.9,1.1 L13.4,5.4 L15.5,1.2 Z M17.2,1.3 L16.7,5.6 L18.8,1.4 Z M20.5,1.6 L20.1,5.9 L22.1,1.7 Z M23.8,1.8 L23.4,6.1 L25.4,1.8 Z M27.2,1.9 L26.8,6.2 L28.8,2 Z M30.5,2.1 L30.1,6.4 L32.1,2.2 Z M33.8,2.3 L33.4,6.6 L35.4,2.4 Z M37.1,2.5 L36.7,6.8 L38.7,2.6 Z M1.2,-0.6 L-6,-3 L2.1,0.6 Z M1.2,0 L-5.4,3 L2.1,1 Z" fill="#7E2954"/><path d="M32.1,-9 q1.8,-0.6 3.6,4.2 M39.9,-5.4 q3.6,1.2 6.6,-2.4" stroke="#7E2954" stroke-width="1" fill="none" stroke-linecap="round"/><path d="M0,0 C10.3,-9 23.8,-14.4 35.4,-10.6 C41.1,-8.6 42.8,-1.2 39.9,2.6 C26.7,1.9 12.3,1.2 0,0 Z" fill="#E6579B"/><circle cx="12.3" cy="-1.8" r="2.5" fill="#D39CD1"/><circle cx="18.5" cy="-5" r="2.5" fill="#D39CD1"/><circle cx="22.6" cy="-2.4" r="3.5" fill="#D39CD1"/><circle cx="29.6" cy="-8.4" r="2.1" fill="#D39CD1"/><circle cx="31.2" cy="-4.8" r="2.5" fill="#D39CD1"/><circle cx="37" cy="-0.6" r="1.8" fill="#D39CD1"/></g>
<g transform="translate(907,877) rotate(-0.7) scale(1,1)"><path d=" M2,-2.2 L-5.5,-7.3 L4.1,-4.4 Z M6.8,-7.1 L-0.9,-13.3 L9,-9.1 Z M11.8,-11.6 L4,-18.8 L14.1,-13.5 Z M17,-15.7 L9.3,-23.9 L19.4,-17.4 Z M22.3,-19.3 L14.9,-28.5 L24.8,-20.9 Z M27.6,-22.5 L20.9,-32.4 L30.3,-23.8 Z M33.1,-25.1 L27.2,-35.7 L35.9,-26.2 Z M38.6,-27.1 L33.8,-38.1 L41.5,-28 Z M44.1,-28.6 L40.6,-39.7 L47,-29.1 Z M49.6,-29.4 L47.5,-40.3 L52.6,-29.6 Z M55.1,-29.5 L54.4,-39.9 L58.1,-29.3 Z M60.5,-28.9 L61.1,-38.5 L63.4,-28.3 Z M2.1,0.3 L-0,10.9 L5.1,0.6 Z M8.2,1 L6.1,11.6 L11.2,1.3 Z M14.4,1.6 L12.4,12.3 L17.4,1.9 Z M20.7,2.2 L18.8,12.9 L23.7,2.5 Z M27,2.8 L25.2,13.5 L30,3.1 Z M33.5,3.4 L31.7,14.1 L36.5,3.6 Z M40,3.9 L38.2,14.6 L42.9,4.1 Z M46.5,4.4 L44.8,15.1 L49.4,4.6 Z M53,4.9 L51.3,15.6 L55.9,5.1 Z M59.4,5.3 L57.8,16 L62.4,5.5 Z M65.9,5.8 L64.2,16.5 L68.9,6 Z M72.3,6.2 L70.6,16.9 L75.2,6.4 Z M2.4,-1.5 L-15,-7.5 L4,1.5 Z M2.4,0 L-13.5,7.5 L4,2.4 Z" fill="#7E2954"/><path d="M62.4,-22.5 q4.5,-1.5 9,10.5 M77.6,-13.5 q9,3 16.5,-6" stroke="#7E2954" stroke-width="2.4" fill="none" stroke-linecap="round"/><path d="M0,0 C20,-22.5 46.4,-36 68.8,-26.4 C80,-21.6 83.2,-3 77.6,6.6 C52,4.8 24,3 0,0 Z" fill="#E6579B"/><circle cx="24" cy="-4.5" r="4.8" fill="#D39CD1"/><circle cx="36" cy="-12.6" r="4.8" fill="#D39CD1"/><circle cx="44" cy="-6" r="6.8" fill="#D39CD1"/><circle cx="57.6" cy="-21" r="4" fill="#D39CD1"/><circle cx="60.8" cy="-12" r="4.8" fill="#D39CD1"/><circle cx="72" cy="-1.5" r="3.6" fill="#D39CD1"/></g>
<g transform="translate(682,944) rotate(-50.9) scale(1,1)"><path d=" M0.9,-0.8 L-1.6,-3.3 L2.2,-1.8 Z M3.4,-2.8 L0.8,-5.7 L4.7,-3.7 Z M6,-4.6 L3.4,-7.9 L7.4,-5.5 Z M8.7,-6.2 L6.2,-10 L10.1,-7 Z M11.4,-7.7 L9,-11.7 L12.9,-8.4 Z M14.2,-9 L12.1,-13.3 L15.7,-9.5 Z M17,-10 L15.2,-14.5 L18.5,-10.5 Z M19.8,-10.8 L18.4,-15.4 L21.4,-11.2 Z M22.7,-11.4 L21.7,-15.9 L24.3,-11.6 Z M25.5,-11.8 L25,-16.1 L27.1,-11.8 Z M28.4,-11.8 L28.2,-15.9 L30,-11.7 Z M31.2,-11.6 L31.4,-15.4 L32.7,-11.3 Z M1.1,0.1 L0.5,4.4 L2.7,0.2 Z M4.2,0.4 L3.7,4.7 L5.8,0.5 Z M7.4,0.6 L6.9,4.9 L9,0.8 Z M10.6,0.9 L10.2,5.2 L12.2,1 Z M13.9,1.1 L13.5,5.4 L15.5,1.2 Z M17.2,1.3 L16.8,5.6 L18.8,1.4 Z M20.6,1.6 L20.1,5.9 L22.2,1.7 Z M23.9,1.8 L23.5,6.1 L25.5,1.8 Z M27.3,1.9 L26.9,6.2 L28.9,2 Z M30.6,2.1 L30.2,6.4 L32.2,2.2 Z M33.9,2.3 L33.5,6.6 L35.5,2.4 Z M37.2,2.5 L36.8,6.8 L38.8,2.6 Z M1.2,-0.6 L-6,-3 L2.1,0.6 Z M1.2,0 L-5.4,3 L2.1,1 Z" fill="#7E2954"/><path d="M32.2,-9 q1.8,-0.6 3.6,4.2 M40,-5.4 q3.6,1.2 6.6,-2.4" stroke="#7E2954" stroke-width="1" fill="none" stroke-linecap="round"/><path d="M0,0 C10.3,-9 23.9,-14.4 35.5,-10.6 C41.2,-8.6 42.9,-1.2 40,2.6 C26.8,1.9 12.4,1.2 0,0 Z" fill="#E6579B"/><circle cx="12.4" cy="-1.8" r="2.5" fill="#D39CD1"/><circle cx="18.6" cy="-5" r="2.5" fill="#D39CD1"/><circle cx="22.7" cy="-2.4" r="3.5" fill="#D39CD1"/><circle cx="29.7" cy="-8.4" r="2.1" fill="#D39CD1"/><circle cx="31.3" cy="-4.8" r="2.5" fill="#D39CD1"/><circle cx="37.1" cy="-0.6" r="1.9" fill="#D39CD1"/></g>
<g transform="translate(1100,955) rotate(-20.1) scale(1,1)"><path d=" M1,-0.8 L-1.5,-3.4 L2.3,-1.8 Z M3.7,-2.8 L1.1,-5.8 L5,-3.7 Z M6.4,-4.6 L3.9,-8 L7.8,-5.4 Z M9.2,-6.3 L6.8,-10 L10.6,-7 Z M12.1,-7.7 L9.8,-11.8 L13.6,-8.4 Z M15.1,-9 L13,-13.3 L16.6,-9.5 Z M18,-10 L16.3,-14.5 L19.6,-10.5 Z M21.1,-10.9 L19.7,-15.4 L22.6,-11.2 Z M24.1,-11.4 L23.1,-16 L25.7,-11.6 Z M27.1,-11.8 L26.5,-16.1 L28.7,-11.8 Z M30.1,-11.8 L29.9,-15.9 L31.7,-11.7 Z M33,-11.6 L33.2,-15.4 L34.6,-11.3 Z M1.2,0.1 L0.7,4.4 L2.8,0.2 Z M4.5,0.4 L4,4.7 L6.1,0.5 Z M7.9,0.6 L7.4,4.9 L9.5,0.8 Z M11.3,0.9 L10.8,5.2 L12.9,1 Z M14.8,1.1 L14.3,5.4 L16.4,1.2 Z M18.3,1.3 L17.9,5.7 L19.9,1.4 Z M21.8,1.6 L21.4,5.9 L23.4,1.6 Z M25.4,1.8 L25,6.1 L27,1.8 Z M28.9,1.9 L28.5,6.3 L30.5,2 Z M32.5,2.1 L32.1,6.4 L34,2.2 Z M36,2.3 L35.6,6.6 L37.6,2.4 Z M39.4,2.5 L39.1,6.8 L41,2.6 Z M1.3,-0.6 L-6,-3 L2.2,0.6 Z M1.3,0 L-5.4,3 L2.2,1 Z" fill="#7E2954"/><path d="M34.1,-9 q1.8,-0.6 3.6,4.2 M42.3,-5.4 q3.6,1.2 6.6,-2.4" stroke="#7E2954" stroke-width="1" fill="none" stroke-linecap="round"/><path d="M0,0 C10.9,-9 25.3,-14.4 37.5,-10.6 C43.7,-8.6 45.4,-1.2 42.3,2.6 C28.4,1.9 13.1,1.2 0,0 Z" fill="#E6579B"/><circle cx="13.1" cy="-1.8" r="2.6" fill="#D39CD1"/><circle cx="19.6" cy="-5" r="2.6" fill="#D39CD1"/><circle cx="24" cy="-2.4" r="3.7" fill="#D39CD1"/><circle cx="31.4" cy="-8.4" r="2.2" fill="#D39CD1"/><circle cx="33.2" cy="-4.8" r="2.6" fill="#D39CD1"/><circle cx="39.3" cy="-0.6" r="2" fill="#D39CD1"/></g>
</g>
<!-- bubbles -->
<g id="bubbles">
<circle cx="816.5" cy="342.7" r="6.8" fill="url(#bub)"/>
<circle cx="788.8" cy="382.7" r="5.5" fill="url(#bub)"/>
<circle cx="850.3" cy="460.4" r="4.2" fill="url(#bub)"/>
<circle cx="755.7" cy="510.4" r="4.2" fill="url(#bub)"/>
<circle cx="759.6" cy="542" r="6.8" fill="url(#bub)"/>
<circle cx="819" cy="571.2" r="9.4" fill="url(#bub)"/>
<circle cx="797.6" cy="590.7" r="5.5" fill="url(#bub)"/>
<circle cx="789.4" cy="670.6" r="5.6" fill="url(#bub)"/>
<circle cx="843.8" cy="692.8" r="4.1" fill="url(#bub)"/>
<circle cx="818.4" cy="711.5" r="8.1" fill="url(#bub)"/>
<circle cx="769.6" cy="767.8" r="4.1" fill="url(#bub)"/>
<circle cx="839.6" cy="765.4" r="5.5" fill="url(#bub)"/>
<circle cx="785.6" cy="779.4" r="5.5" fill="url(#bub)"/>
<circle cx="856.6" cy="788.8" r="9.4" fill="url(#bub)"/>
<circle cx="748.5" cy="806" r="6.9" fill="url(#bub)"/>
<circle cx="767.9" cy="811.6" r="4.1" fill="url(#bub)"/>
<circle cx="760" cy="822.8" r="7.9" fill="url(#bub)"/>
<circle cx="794.4" cy="822.5" r="10.4" fill="url(#bub)"/>
<circle cx="885.4" cy="813.8" r="4.1" fill="url(#bub)"/>
<circle cx="761.5" cy="845.9" r="12.1" fill="url(#bub)"/>
<circle cx="792.9" cy="841.5" r="7.2" fill="url(#bub)"/>
<circle cx="835.9" cy="853.8" r="12.5" fill="url(#bub)"/>
<circle cx="868.5" cy="854.4" r="7.9" fill="url(#bub)"/>
<circle cx="879.1" cy="845" r="6.9" fill="url(#bub)"/>
<circle cx="782" cy="889.6" r="8" fill="url(#bub)"/>
<circle cx="760.1" cy="907.9" r="12.5" fill="url(#bub)"/>
<circle cx="875" cy="902.1" r="9" fill="url(#bub)"/>
<circle cx="845.6" cy="914.4" r="9.5" fill="url(#bub)"/>
<circle cx="796.5" cy="923.5" r="5.6" fill="url(#bub)"/>
<circle cx="806.6" cy="929.1" r="9.1" fill="url(#bub)"/>
<circle cx="780.6" cy="935.2" r="4.1" fill="url(#bub)"/>
<circle cx="828.5" cy="937.5" r="5.5" fill="url(#bub)"/>
<circle cx="846.5" cy="945" r="12.5" fill="url(#bub)"/>
<circle cx="829.4" cy="959.4" r="8" fill="url(#bub)"/>
<circle cx="783.4" cy="977.2" r="9.5" fill="url(#bub)"/>
<circle cx="800.6" cy="1000.4" r="5.6" fill="url(#bub)"/>
<circle cx="793.4" cy="1038" r="7" fill="url(#bub)"/>
<circle cx="796.4" cy="1090.4" r="5.6" fill="url(#bub)"/>
<circle cx="789.6" cy="1101.6" r="4" fill="url(#bub)"/>
<circle cx="818" cy="1109.6" r="9.4" fill="url(#bub)"/>
<circle cx="856.6" cy="1193.4" r="4.2" fill="url(#bub)"/>
<circle cx="802.2" cy="1215.6" r="5.6" fill="url(#bub)"/>
<circle cx="850.2" cy="1224.4" r="7" fill="url(#bub)"/>
<circle cx="806.6" cy="1297.6" r="8.2" fill="url(#bub)"/>
</g>

<!-- temperature labels -->
<g class="thin2">
<text x="107.2" y="492.5" font-size="52" font-weight="bold" textLength="68" lengthAdjust="spacingAndGlyphs">90</text>
<text x="107.8" y="636.9" font-size="52" font-weight="bold" textLength="63.4" lengthAdjust="spacingAndGlyphs">70</text>
<text x="108" y="813.1" font-size="52" font-weight="bold" textLength="62.6" lengthAdjust="spacingAndGlyphs">45</text>
<text x="107.6" y="990" font-size="52" font-weight="bold" textLength="65.2" lengthAdjust="spacingAndGlyphs">20</text>
</g>
<g fill="none" stroke="#0055A4" stroke-width="3.3">
<circle cx="185.6" cy="465.7" r="6.3"/>
<circle cx="182.35" cy="610.6" r="6.3"/>
<circle cx="181.9" cy="787.2" r="6.3"/>
<circle cx="183.3" cy="964.4" r="6.3"/>
</g>

<!-- pH labels -->
<g fill="#0055A4">
<path d="M1374.1,461.4 L1383,458.3 L1386.9,458.3 L1386.9,491.9 L1381.1,491.9 L1381.1,464.6 L1375.3,466.3 Z"/>
<path d="M1373.9,1268 L1383,1265 L1386.9,1265 L1386.9,1298.7 L1381.3,1298.7 L1381.3,1271.2 L1375,1272.9 Z"/>
<path fill-rule="evenodd" d="M1408.5,1265 L1417,1265 L1417,1286.3 L1421.9,1286.3 L1421.9,1291 L1417,1291 L1417,1298.7 L1411.3,1298.7 L1411.3,1291 L1394.2,1291 L1393.4,1286.8 Z M1400.8,1286.3 L1411.3,1286.3 L1411.3,1273.3 Z"/>
</g>
<g class="thin2">
<text x="1372.2" y="897.2" font-size="51" font-weight="bold" textLength="30.9" lengthAdjust="spacingAndGlyphs">7</text>
</g><g class="thin3">
<text x="1427" y="888.75" font-size="34" font-weight="bold" textLength="115.7" lengthAdjust="spacingAndGlyphs">neutral</text>
<text transform="translate(1376.25,627) rotate(90)" font-size="35" font-weight="bold" textLength="89" lengthAdjust="spacingAndGlyphs">sauer</text>
<text transform="translate(1376.25,1032.5) rotate(90)" font-size="34" font-weight="bold" textLength="139.5" lengthAdjust="spacingAndGlyphs">alkalisch</text>
</g>
<!-- arrows -->
<g stroke="#0053A1" stroke-width="2.3" fill="none" stroke-linecap="round">
  <path d="M1385.2,766 L1385.2,817.6"/>
  <path d="M1385.2,752.4 L1393.2,765.2 L1377.2,765.2 Z"/>
  <path d="M1385.1,936.4 L1385.1,988"/>
  <path d="M1385.1,1001.4 L1393.2,988.3 L1377.1,988.3 Z"/>
</g>

<!-- title -->
<g class="thin">
<text x="417.00" y="154.6" font-size="64.5" font-weight="bold" textLength="84.55" lengthAdjust="spacingAndGlyphs">So</text>
<text x="520.00" y="154.6" font-size="64.5" font-weight="bold" textLength="200.88" lengthAdjust="spacingAndGlyphs">fühlen</text>
<text x="737.60" y="154.6" font-size="64.5" font-weight="bold" textLength="128.62" lengthAdjust="spacingAndGlyphs">sich</text>
<text x="884.40" y="154.6" font-size="64.5" font-weight="bold" textLength="201.25" lengthAdjust="spacingAndGlyphs">Keime</text>
<text x="1103.00" y="154.6" font-size="64.5" font-weight="bold" textLength="81.80" lengthAdjust="spacingAndGlyphs">im</text>
<text x="400.00" y="238.4" font-size="64.5" font-weight="bold" textLength="376.47" lengthAdjust="spacingAndGlyphs">Trinkwasser</text>
<text x="794.00" y="238.4" font-size="64.5" font-weight="bold" textLength="101.65" lengthAdjust="spacingAndGlyphs">am</text>
<text x="913.60" y="238.4" font-size="64.5" font-weight="bold" textLength="289.66" lengthAdjust="spacingAndGlyphs">wohlsten</text>
</g>

<g class="thin2">
<!-- bottom labels -->
<text x="122.25" y="1402" font-size="48.5" font-weight="bold" textLength="277.5" lengthAdjust="spacingAndGlyphs">Temperatur</text>
<text x="691.5" y="1402" font-size="48.5" font-weight="bold" textLength="248.9" lengthAdjust="spacingAndGlyphs">Sauerstoff</text>
<text x="1223.25" y="1402" font-size="48.5" font-weight="bold" textLength="206" lengthAdjust="spacingAndGlyphs">pH-Wert</text>
</g>

<!-- BRITA logo -->
<g>
  <circle cx="1155.2" cy="1486.25" r="10.3" fill="#00509F"/>
  <circle cx="1177.7" cy="1486.25" r="10.3" fill="#00509F"/>
  <circle cx="1200.4" cy="1486.25" r="10.3" fill="#00509F"/>
  <circle cx="1155.2" cy="1509.2" r="10.3" fill="#00B2EC"/>
  <circle cx="1177.7" cy="1509.2" r="10.3" fill="#00B2EC"/>
  <circle cx="1200.4" cy="1509.2" r="10.3" fill="#00B2EC"/>
  <circle cx="1155.2" cy="1532.2" r="10.3" fill="#88CDF2"/>
  <circle cx="1177.7" cy="1532.2" r="10.3" fill="#88CDF2"/>
  <circle cx="1200.4" cy="1532.2" r="10.3" fill="#88CDF2"/>
  <text x="1225.2" y="1542" font-family="Liberation Serif" style="font-family:'Liberation Serif',serif" font-size="100" font-weight="bold" textLength="238" lengthAdjust="spacingAndGlyphs" fill="#00509F">BRITA</text>
</g>

</svg>
</body></html>
